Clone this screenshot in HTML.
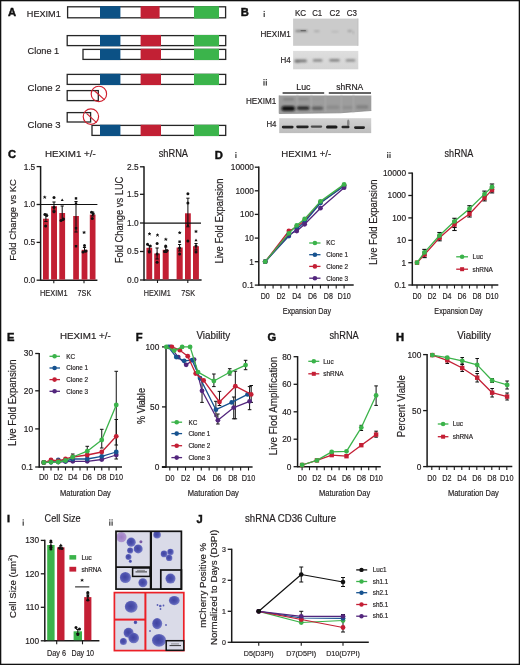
<!DOCTYPE html>
<html><head><meta charset="utf-8"><style>
html,body{margin:0;padding:0;background:#fff;}
body{width:520px;height:665px;overflow:hidden;font-family:"Liberation Sans", sans-serif;}
svg{display:block;will-change:transform;}
text{stroke:#231f20;stroke-width:0.18px;}
</style></head><body>
<svg width="520" height="665" viewBox="0 0 520 665" font-family='"Liberation Sans", sans-serif'>
<rect x="0" y="0" width="520" height="665" fill="#fff"/>
<text x="8.00" y="16.00" font-size="11.2" text-anchor="start" fill="#111" font-weight="bold" style="stroke:#111;stroke-width:0.45px">A</text>
<rect x="67.60" y="6.80" width="158.00" height="11.00" fill="#fff" stroke="#262626" stroke-width="1.3" />
<rect x="100.00" y="6.15" width="20.40" height="12.30" fill="#0c5185" stroke="none" stroke-width="1" />
<rect x="140.60" y="6.15" width="19.00" height="12.30" fill="#c22034" stroke="none" stroke-width="1" />
<rect x="194.00" y="6.15" width="25.00" height="12.30" fill="#3bb44b" stroke="none" stroke-width="1" />
<text x="26.80" y="16.90" font-size="9.4" text-anchor="start" fill="#231f20" textLength="34.00" lengthAdjust="spacingAndGlyphs" >HEXIM1</text>
<rect x="67.20" y="35.60" width="158.50" height="10.00" fill="#fff" stroke="#262626" stroke-width="1.3" />
<rect x="100.00" y="34.95" width="20.40" height="11.30" fill="#0c5185" stroke="none" stroke-width="1" />
<rect x="140.60" y="34.95" width="20.40" height="11.30" fill="#c22034" stroke="none" stroke-width="1" />
<rect x="194.00" y="34.95" width="25.00" height="11.30" fill="#3bb44b" stroke="none" stroke-width="1" />
<rect x="83.00" y="49.40" width="142.70" height="10.00" fill="#fff" stroke="#262626" stroke-width="1.3" />
<rect x="100.00" y="48.75" width="20.40" height="11.30" fill="#0c5185" stroke="none" stroke-width="1" />
<rect x="140.60" y="48.75" width="20.40" height="11.30" fill="#c22034" stroke="none" stroke-width="1" />
<rect x="194.00" y="48.75" width="25.00" height="11.30" fill="#3bb44b" stroke="none" stroke-width="1" />
<text x="27.60" y="54.20" font-size="9.4" text-anchor="start" fill="#231f20" textLength="31.60" lengthAdjust="spacingAndGlyphs" >Clone 1</text>
<rect x="67.20" y="74.40" width="158.50" height="10.00" fill="#fff" stroke="#262626" stroke-width="1.3" />
<rect x="100.00" y="73.75" width="20.40" height="11.30" fill="#0c5185" stroke="none" stroke-width="1" />
<rect x="140.60" y="73.75" width="20.40" height="11.30" fill="#c22034" stroke="none" stroke-width="1" />
<rect x="194.00" y="73.75" width="25.00" height="11.30" fill="#3bb44b" stroke="none" stroke-width="1" />
<rect x="67.20" y="90.60" width="31.10" height="10.00" fill="#fff" stroke="#262626" stroke-width="1.3" />
<text x="27.60" y="91.20" font-size="9.4" text-anchor="start" fill="#231f20" textLength="33.00" lengthAdjust="spacingAndGlyphs" >Clone 2</text>
<rect x="67.20" y="112.60" width="23.40" height="9.40" fill="#fff" stroke="#262626" stroke-width="1.3" />
<rect x="92.00" y="125.40" width="133.70" height="10.00" fill="#fff" stroke="#262626" stroke-width="1.3" />
<rect x="100.00" y="124.75" width="20.40" height="11.30" fill="#0c5185" stroke="none" stroke-width="1" />
<rect x="140.60" y="124.75" width="20.40" height="11.30" fill="#c22034" stroke="none" stroke-width="1" />
<rect x="194.00" y="124.75" width="25.00" height="11.30" fill="#3bb44b" stroke="none" stroke-width="1" />
<text x="27.60" y="128.00" font-size="9.4" text-anchor="start" fill="#231f20" textLength="33.00" lengthAdjust="spacingAndGlyphs" >Clone 3</text>
<circle cx="98.90" cy="93.90" r="7.7" fill="none" stroke="#d0202f" stroke-width="1.15"/>
<line x1="94.50" y1="90.70" x2="104.60" y2="99.90" stroke="#d0202f" stroke-width="1.15" />
<circle cx="90.90" cy="116.60" r="7.7" fill="none" stroke="#d0202f" stroke-width="1.15"/>
<line x1="86.50" y1="113.40" x2="96.60" y2="122.60" stroke="#d0202f" stroke-width="1.15" />
<text x="240.80" y="15.80" font-size="11.2" text-anchor="start" fill="#111" font-weight="bold" style="stroke:#111;stroke-width:0.45px">B</text>
<rect x="263.60" y="10.90" width="1.20" height="1.20" fill="#3a3a3a" stroke="none" stroke-width="1" />
<rect x="263.60" y="13.00" width="1.20" height="4.00" fill="#3a3a3a" stroke="none" stroke-width="1" />
<text x="295.00" y="16.00" font-size="8.3" text-anchor="start" fill="#231f20" textLength="11.20" lengthAdjust="spacingAndGlyphs" >KC</text>
<text x="312.20" y="16.00" font-size="8.3" text-anchor="start" fill="#231f20" textLength="10.00" lengthAdjust="spacingAndGlyphs" >C1</text>
<text x="329.60" y="16.00" font-size="8.3" text-anchor="start" fill="#231f20" textLength="10.40" lengthAdjust="spacingAndGlyphs" >C2</text>
<text x="346.80" y="16.00" font-size="8.3" text-anchor="start" fill="#231f20" textLength="10.20" lengthAdjust="spacingAndGlyphs" >C3</text>
<text x="260.50" y="36.70" font-size="8.8" text-anchor="start" fill="#231f20" textLength="30.30" lengthAdjust="spacingAndGlyphs" >HEXIM1</text>
<text x="280.60" y="62.90" font-size="8.8" text-anchor="start" fill="#231f20" textLength="10.20" lengthAdjust="spacingAndGlyphs" >H4</text>
<defs><filter id="blur1" x="-30%" y="-100%" width="160%" height="300%"><feGaussianBlur stdDeviation="0.9"/></filter><filter id="blur2" x="-30%" y="-100%" width="160%" height="300%"><feGaussianBlur stdDeviation="0.55"/></filter><filter id="blur3" x="-30%" y="-100%" width="160%" height="300%"><feGaussianBlur stdDeviation="0.35"/></filter><linearGradient id="gH4a" x1="0" y1="0" x2="0" y2="1"><stop offset="0" stop-color="#dedede"/><stop offset="1" stop-color="#d4d4d4"/></linearGradient><linearGradient id="gH4b" x1="0" y1="0" x2="0" y2="1"><stop offset="0" stop-color="#d2d2d2"/><stop offset="1" stop-color="#bdbdbd"/></linearGradient></defs>
<rect x="293.10" y="18.60" width="65.20" height="27.20" fill="#cbcbcb" stroke="none" stroke-width="1" />
<rect x="357.20" y="18.60" width="1.10" height="27.20" fill="#c4c4c4" stroke="none" stroke-width="1" />
<rect x="295.50" y="30.10" width="12.00" height="1.80" rx="0.90" fill="#444" opacity="0.55" filter="url(#blur1)"/>
<rect x="300.50" y="30.00" width="5.50" height="1.20" rx="0.60" fill="#333" opacity="0.5" filter="url(#blur2)"/>
<rect x="314.00" y="30.50" width="5.50" height="1.40" rx="0.70" fill="#555" opacity="0.35" filter="url(#blur1)"/>
<rect x="331.50" y="31.00" width="7.00" height="1.20" rx="0.60" fill="#666" opacity="0.25" filter="url(#blur1)"/>
<rect x="347.50" y="30.20" width="4.50" height="1.60" rx="0.80" fill="#444" opacity="0.4" filter="url(#blur1)"/>
<rect x="352.50" y="31.00" width="1.50" height="3.00" rx="1.50" fill="#555" opacity="0.3" filter="url(#blur1)"/>
<rect x="293.10" y="50.90" width="65.20" height="18.40" fill="url(#gH4a)" stroke="none" stroke-width="1" />
<rect x="294.50" y="59.60" width="12.30" height="2.60" rx="1.30" fill="#444" opacity="0.65" filter="url(#blur1)"/>
<rect x="295.00" y="61.00" width="5.00" height="1.60" rx="0.80" fill="#444" opacity="0.4" filter="url(#blur1)"/>
<rect x="312.90" y="59.20" width="9.50" height="2.40" rx="1.20" fill="#444" opacity="0.6" filter="url(#blur1)"/>
<rect x="329.30" y="59.10" width="10.40" height="2.40" rx="1.20" fill="#444" opacity="0.6" filter="url(#blur1)"/>
<rect x="345.70" y="59.20" width="9.60" height="2.40" rx="1.20" fill="#444" opacity="0.55" filter="url(#blur1)"/>
<rect x="263.40" y="79.00" width="1.20" height="1.20" fill="#3a3a3a" stroke="none" stroke-width="1" />
<rect x="263.40" y="81.10" width="1.20" height="4.50" fill="#3a3a3a" stroke="none" stroke-width="1" />
<rect x="265.70" y="79.00" width="1.20" height="1.20" fill="#3a3a3a" stroke="none" stroke-width="1" />
<rect x="265.70" y="81.10" width="1.20" height="4.50" fill="#3a3a3a" stroke="none" stroke-width="1" />
<text x="296.30" y="89.80" font-size="8.8" text-anchor="start" fill="#231f20" textLength="14.20" lengthAdjust="spacingAndGlyphs" >Luc</text>
<text x="336.30" y="89.80" font-size="8.8" text-anchor="start" fill="#231f20" textLength="27.00" lengthAdjust="spacingAndGlyphs" >shRNA</text>
<line x1="282.60" y1="93.10" x2="324.20" y2="93.10" stroke="#333" stroke-width="1.5" />
<line x1="328.80" y1="93.10" x2="371.00" y2="93.10" stroke="#333" stroke-width="1.5" />
<text x="246.00" y="104.00" font-size="8.8" text-anchor="start" fill="#231f20" textLength="30.30" lengthAdjust="spacingAndGlyphs" >HEXIM1</text>
<text x="266.40" y="126.60" font-size="8.8" text-anchor="start" fill="#231f20" textLength="10.00" lengthAdjust="spacingAndGlyphs" >H4</text>
<polygon points="279.2,95.4 371.3,95.4 371.3,110.5 340,112.8 279.2,113.5" fill="#9d9d9d"/>
<polyline points="279.2,95.4 279.2,113.5 340,112.8 371.3,110.5" fill="none" stroke="#8a8a8a" stroke-width="0.8" filter="url(#blur3)"/>
<rect x="296.50" y="95.40" width="1.60" height="16.50" fill="#a8a8a8" stroke="none" stroke-width="1" filter="url(#blur1)"/>
<rect x="310.50" y="95.40" width="1.60" height="16.50" fill="#a8a8a8" stroke="none" stroke-width="1" filter="url(#blur1)"/>
<rect x="324.50" y="95.40" width="1.60" height="16.50" fill="#a8a8a8" stroke="none" stroke-width="1" filter="url(#blur1)"/>
<rect x="340.50" y="95.40" width="1.60" height="16.50" fill="#a8a8a8" stroke="none" stroke-width="1" filter="url(#blur1)"/>
<rect x="352.50" y="95.40" width="1.60" height="16.50" fill="#a8a8a8" stroke="none" stroke-width="1" filter="url(#blur1)"/>
<rect x="281.50" y="105.90" width="13.50" height="5.00" rx="2.50" fill="#0a0a0a" opacity="0.95" filter="url(#blur1)"/>
<rect x="296.80" y="106.20" width="12.70" height="3.80" rx="1.90" fill="#1a1a1a" opacity="0.88" filter="url(#blur1)"/>
<rect x="311.80" y="106.60" width="11.40" height="3.40" rx="1.70" fill="#444" opacity="0.7" filter="url(#blur1)"/>
<rect x="326.50" y="105.50" width="13.00" height="3.40" rx="1.70" fill="#777" opacity="0.45" filter="url(#blur1)"/>
<rect x="342.50" y="106.00" width="10.00" height="3.00" rx="1.50" fill="#777" opacity="0.4" filter="url(#blur1)"/>
<rect x="356.00" y="105.20" width="12.50" height="3.60" rx="1.80" fill="#666" opacity="0.5" filter="url(#blur1)"/>
<rect x="283.00" y="98.20" width="11.00" height="2.00" rx="1.00" fill="#555" opacity="0.45" filter="url(#blur1)"/>
<rect x="298.00" y="98.10" width="11.00" height="1.80" rx="0.90" fill="#666" opacity="0.35" filter="url(#blur1)"/>
<rect x="312.00" y="98.60" width="10.00" height="1.20" rx="0.60" fill="#888" opacity="0.25" filter="url(#blur1)"/>
<rect x="279.20" y="118.20" width="92.00" height="14.90" fill="url(#gH4b)" stroke="none" stroke-width="1" />
<rect x="281.80" y="125.70" width="11.80" height="2.80" rx="1.40" fill="#111" opacity="0.88" filter="url(#blur2)"/>
<rect x="296.20" y="125.40" width="12.50" height="2.80" rx="1.40" fill="#111" opacity="0.88" filter="url(#blur2)"/>
<rect x="310.70" y="125.50" width="11.50" height="2.20" rx="1.10" fill="#222" opacity="0.75" filter="url(#blur2)"/>
<rect x="326.00" y="125.50" width="11.50" height="3.00" rx="1.50" fill="#0a0a0a" opacity="0.92" filter="url(#blur2)"/>
<rect x="341.50" y="125.80" width="8.00" height="2.40" rx="1.20" fill="#111" opacity="0.85" filter="url(#blur2)"/>
<rect x="354.00" y="126.20" width="11.00" height="2.80" rx="1.40" fill="#111" opacity="0.88" filter="url(#blur2)"/>
<rect x="347.00" y="119.50" width="2.50" height="7.00" rx="3.50" fill="#333" opacity="0.45" filter="url(#blur2)"/>
<text x="8.00" y="158.30" font-size="11.2" text-anchor="start" fill="#111" font-weight="bold" style="stroke:#111;stroke-width:0.45px">C</text>
<text x="45.00" y="156.90" font-size="9.9" text-anchor="start" fill="#231f20" textLength="50.80" lengthAdjust="spacingAndGlyphs" >HEXIM1 +/-</text>
<text x="15.90" y="220.00" font-size="9.6" text-anchor="middle" fill="#231f20" textLength="81.60" lengthAdjust="spacingAndGlyphs" transform="rotate(-90 15.90 220.00)" >Fold Change vs KC</text>
<line x1="40.60" y1="166.00" x2="40.60" y2="280.90" stroke="#1a1a1a" stroke-width="1.5" />
<line x1="36.60" y1="166.60" x2="40.60" y2="166.60" stroke="#1a1a1a" stroke-width="1.3" />
<text x="35.20" y="169.50" font-size="8.3" text-anchor="end" fill="#231f20" >1.5</text>
<line x1="36.60" y1="204.50" x2="40.60" y2="204.50" stroke="#1a1a1a" stroke-width="1.3" />
<text x="35.20" y="207.40" font-size="8.3" text-anchor="end" fill="#231f20" >1.0</text>
<line x1="36.60" y1="242.40" x2="40.60" y2="242.40" stroke="#1a1a1a" stroke-width="1.3" />
<text x="35.20" y="245.30" font-size="8.3" text-anchor="end" fill="#231f20" >0.5</text>
<line x1="36.60" y1="280.20" x2="40.60" y2="280.20" stroke="#1a1a1a" stroke-width="1.3" />
<text x="35.20" y="283.10" font-size="8.3" text-anchor="end" fill="#231f20" >0.0</text>
<line x1="40.60" y1="280.20" x2="97.40" y2="280.20" stroke="#1a1a1a" stroke-width="1.5" />
<line x1="53.80" y1="280.20" x2="53.80" y2="283.20" stroke="#1a1a1a" stroke-width="1.1" />
<line x1="84.00" y1="280.20" x2="84.00" y2="283.20" stroke="#1a1a1a" stroke-width="1.1" />
<line x1="40.60" y1="204.50" x2="97.40" y2="204.50" stroke="#111" stroke-width="1.2" />
<rect x="43.00" y="218.70" width="5.80" height="60.90" fill="#c21f33" stroke="none" stroke-width="1" />
<rect x="51.10" y="206.20" width="5.90" height="73.40" fill="#c21f33" stroke="none" stroke-width="1" />
<rect x="59.30" y="213.00" width="5.80" height="66.60" fill="#c21f33" stroke="none" stroke-width="1" />
<rect x="73.20" y="216.00" width="5.70" height="63.60" fill="#c21f33" stroke="none" stroke-width="1" />
<rect x="81.60" y="249.80" width="5.80" height="29.80" fill="#c21f33" stroke="none" stroke-width="1" />
<rect x="89.80" y="214.60" width="5.70" height="65.00" fill="#c21f33" stroke="none" stroke-width="1" />
<line x1="45.90" y1="214.00" x2="45.90" y2="221.50" stroke="#111" stroke-width="1.05" />
<line x1="44.30" y1="214.00" x2="47.50" y2="214.00" stroke="#111" stroke-width="1.05" />
<line x1="44.30" y1="221.50" x2="47.50" y2="221.50" stroke="#111" stroke-width="1.05" />
<circle cx="44.90" cy="214.60" r="1.5" fill="#111" stroke="none" stroke-width="1"/>
<circle cx="46.80" cy="215.60" r="1.5" fill="#111" stroke="none" stroke-width="1"/>
<circle cx="45.60" cy="226.00" r="1.5" fill="#111" stroke="none" stroke-width="1"/>
<path d="M44.70,197.30L44.70,196.10 M44.70,197.30L45.84,196.93 M44.70,197.30L45.41,198.27 M44.70,197.30L43.99,198.27 M44.70,197.30L43.56,196.93" stroke="#111" stroke-width="0.95" stroke-linecap="round" fill="none"/>
<line x1="54.00" y1="202.00" x2="54.00" y2="211.00" stroke="#111" stroke-width="1.05" />
<line x1="52.40" y1="202.00" x2="55.60" y2="202.00" stroke="#111" stroke-width="1.05" />
<line x1="52.40" y1="211.00" x2="55.60" y2="211.00" stroke="#111" stroke-width="1.05" />
<circle cx="54.00" cy="197.60" r="1.5" fill="#111" stroke="none" stroke-width="1"/>
<circle cx="54.00" cy="207.30" r="1.5" fill="#111" stroke="none" stroke-width="1"/>
<circle cx="54.00" cy="211.80" r="1.5" fill="#111" stroke="none" stroke-width="1"/>
<line x1="62.20" y1="206.00" x2="62.20" y2="220.50" stroke="#111" stroke-width="1.05" />
<line x1="60.60" y1="206.00" x2="63.80" y2="206.00" stroke="#111" stroke-width="1.05" />
<line x1="60.60" y1="220.50" x2="63.80" y2="220.50" stroke="#111" stroke-width="1.05" />
<polygon points="62.2,198.4 60.7,201 63.7,201" fill="#111"/>
<circle cx="61.00" cy="220.50" r="1.5" fill="#111" stroke="none" stroke-width="1"/>
<circle cx="63.50" cy="219.00" r="1.5" fill="#111" stroke="none" stroke-width="1"/>
<line x1="76.00" y1="201.50" x2="76.00" y2="232.00" stroke="#111" stroke-width="1.05" />
<line x1="74.40" y1="201.50" x2="77.60" y2="201.50" stroke="#111" stroke-width="1.05" />
<line x1="74.40" y1="232.00" x2="77.60" y2="232.00" stroke="#111" stroke-width="1.05" />
<rect x="74.80" y="197.20" width="2.40" height="2.40" fill="#111" stroke="none" stroke-width="1" />
<rect x="74.80" y="202.50" width="2.40" height="2.40" fill="#111" stroke="none" stroke-width="1" />
<rect x="74.80" y="227.00" width="2.40" height="2.40" fill="#111" stroke="none" stroke-width="1" />
<rect x="74.80" y="245.00" width="2.40" height="2.40" fill="#111" stroke="none" stroke-width="1" />
<line x1="84.50" y1="247.50" x2="84.50" y2="252.00" stroke="#111" stroke-width="1.05" />
<line x1="82.90" y1="247.50" x2="86.10" y2="247.50" stroke="#111" stroke-width="1.05" />
<line x1="82.90" y1="252.00" x2="86.10" y2="252.00" stroke="#111" stroke-width="1.05" />
<path d="M84.10,232.50L84.10,231.30 M84.10,232.50L85.24,232.13 M84.10,232.50L84.81,233.47 M84.10,232.50L83.39,233.47 M84.10,232.50L82.96,232.13" stroke="#111" stroke-width="0.95" stroke-linecap="round" fill="none"/>
<circle cx="84.50" cy="245.50" r="1.5" fill="#111" stroke="none" stroke-width="1"/>
<circle cx="83.00" cy="252.00" r="1.5" fill="#111" stroke="none" stroke-width="1"/>
<circle cx="86.00" cy="251.00" r="1.5" fill="#111" stroke="none" stroke-width="1"/>
<line x1="92.60" y1="212.00" x2="92.60" y2="216.00" stroke="#111" stroke-width="1.05" />
<line x1="91.00" y1="212.00" x2="94.20" y2="212.00" stroke="#111" stroke-width="1.05" />
<line x1="91.00" y1="216.00" x2="94.20" y2="216.00" stroke="#111" stroke-width="1.05" />
<circle cx="91.50" cy="212.30" r="1.5" fill="#111" stroke="none" stroke-width="1"/>
<circle cx="93.20" cy="213.80" r="1.5" fill="#111" stroke="none" stroke-width="1"/>
<circle cx="92.30" cy="218.60" r="1.5" fill="#111" stroke="none" stroke-width="1"/>
<text x="40.00" y="295.70" font-size="9.6" text-anchor="start" fill="#231f20" textLength="27.50" lengthAdjust="spacingAndGlyphs" >HEXIM1</text>
<text x="77.60" y="295.70" font-size="9.6" text-anchor="start" fill="#231f20" textLength="13.60" lengthAdjust="spacingAndGlyphs" >7SK</text>
<text x="158.70" y="157.00" font-size="10.0" text-anchor="start" fill="#231f20" textLength="29.30" lengthAdjust="spacingAndGlyphs" >shRNA</text>
<text x="122.80" y="219.90" font-size="10.0" text-anchor="middle" fill="#231f20" textLength="86.50" lengthAdjust="spacingAndGlyphs" transform="rotate(-90 122.80 219.90)" >Fold Change vs LUC</text>
<line x1="144.00" y1="166.20" x2="144.00" y2="280.70" stroke="#1a1a1a" stroke-width="1.5" />
<line x1="140.00" y1="166.80" x2="144.00" y2="166.80" stroke="#1a1a1a" stroke-width="1.3" />
<text x="138.60" y="169.70" font-size="8.3" text-anchor="end" fill="#231f20" >2.5</text>
<line x1="140.00" y1="194.30" x2="144.00" y2="194.30" stroke="#1a1a1a" stroke-width="1.3" />
<text x="138.60" y="197.20" font-size="8.3" text-anchor="end" fill="#231f20" >1.5</text>
<line x1="140.00" y1="223.00" x2="144.00" y2="223.00" stroke="#1a1a1a" stroke-width="1.3" />
<text x="138.60" y="225.90" font-size="8.3" text-anchor="end" fill="#231f20" >1.0</text>
<line x1="140.00" y1="251.50" x2="144.00" y2="251.50" stroke="#1a1a1a" stroke-width="1.3" />
<text x="138.60" y="254.40" font-size="8.3" text-anchor="end" fill="#231f20" >0.5</text>
<line x1="140.00" y1="280.00" x2="144.00" y2="280.00" stroke="#1a1a1a" stroke-width="1.3" />
<text x="138.60" y="282.90" font-size="8.3" text-anchor="end" fill="#231f20" >0.0</text>
<line x1="144.00" y1="280.00" x2="201.60" y2="280.00" stroke="#1a1a1a" stroke-width="1.5" />
<line x1="157.50" y1="280.00" x2="157.50" y2="283.00" stroke="#1a1a1a" stroke-width="1.1" />
<line x1="187.80" y1="280.00" x2="187.80" y2="283.00" stroke="#1a1a1a" stroke-width="1.1" />
<rect x="146.40" y="247.80" width="5.80" height="31.60" fill="#c21f33" stroke="none" stroke-width="1" />
<rect x="154.20" y="253.50" width="5.80" height="25.90" fill="#c21f33" stroke="none" stroke-width="1" />
<rect x="162.70" y="249.80" width="6.00" height="29.60" fill="#c21f33" stroke="none" stroke-width="1" />
<rect x="176.60" y="247.50" width="6.10" height="31.90" fill="#c21f33" stroke="none" stroke-width="1" />
<rect x="185.00" y="213.30" width="5.80" height="66.10" fill="#c21f33" stroke="none" stroke-width="1" />
<rect x="193.00" y="246.20" width="5.90" height="33.20" fill="#c21f33" stroke="none" stroke-width="1" />
<line x1="144.00" y1="223.10" x2="201.00" y2="223.10" stroke="#111" stroke-width="1.2" />
<line x1="149.30" y1="245.50" x2="149.30" y2="251.00" stroke="#111" stroke-width="1.05" />
<line x1="147.70" y1="245.50" x2="150.90" y2="245.50" stroke="#111" stroke-width="1.05" />
<line x1="147.70" y1="251.00" x2="150.90" y2="251.00" stroke="#111" stroke-width="1.05" />
<path d="M149.50,234.00L149.50,232.80 M149.50,234.00L150.64,233.63 M149.50,234.00L150.21,234.97 M149.50,234.00L148.79,234.97 M149.50,234.00L148.36,233.63" stroke="#111" stroke-width="0.95" stroke-linecap="round" fill="none"/>
<circle cx="147.50" cy="244.20" r="1.5" fill="#111" stroke="none" stroke-width="1"/>
<circle cx="150.30" cy="246.00" r="1.5" fill="#111" stroke="none" stroke-width="1"/>
<circle cx="149.30" cy="252.00" r="1.5" fill="#111" stroke="none" stroke-width="1"/>
<line x1="157.10" y1="248.00" x2="157.10" y2="259.00" stroke="#111" stroke-width="1.05" />
<line x1="155.50" y1="248.00" x2="158.70" y2="248.00" stroke="#111" stroke-width="1.05" />
<line x1="155.50" y1="259.00" x2="158.70" y2="259.00" stroke="#111" stroke-width="1.05" />
<path d="M157.50,235.20L157.50,234.00 M157.50,235.20L158.64,234.83 M157.50,235.20L158.21,236.17 M157.50,235.20L156.79,236.17 M157.50,235.20L156.36,234.83" stroke="#111" stroke-width="0.95" stroke-linecap="round" fill="none"/>
<circle cx="157.10" cy="243.60" r="1.5" fill="#111" stroke="none" stroke-width="1"/>
<circle cx="157.10" cy="254.00" r="1.5" fill="#111" stroke="none" stroke-width="1"/>
<circle cx="157.10" cy="262.20" r="1.5" fill="#111" stroke="none" stroke-width="1"/>
<line x1="165.70" y1="247.00" x2="165.70" y2="252.50" stroke="#111" stroke-width="1.05" />
<line x1="164.10" y1="247.00" x2="167.30" y2="247.00" stroke="#111" stroke-width="1.05" />
<line x1="164.10" y1="252.50" x2="167.30" y2="252.50" stroke="#111" stroke-width="1.05" />
<path d="M165.80,239.40L165.80,238.20 M165.80,239.40L166.94,239.03 M165.80,239.40L166.51,240.37 M165.80,239.40L165.09,240.37 M165.80,239.40L164.66,239.03" stroke="#111" stroke-width="0.95" stroke-linecap="round" fill="none"/>
<circle cx="165.70" cy="246.00" r="1.5" fill="#111" stroke="none" stroke-width="1"/>
<circle cx="164.50" cy="251.50" r="1.5" fill="#111" stroke="none" stroke-width="1"/>
<circle cx="167.00" cy="250.50" r="1.5" fill="#111" stroke="none" stroke-width="1"/>
<line x1="179.60" y1="244.50" x2="179.60" y2="251.00" stroke="#111" stroke-width="1.05" />
<line x1="178.00" y1="244.50" x2="181.20" y2="244.50" stroke="#111" stroke-width="1.05" />
<line x1="178.00" y1="251.00" x2="181.20" y2="251.00" stroke="#111" stroke-width="1.05" />
<path d="M179.70,232.80L179.70,231.60 M179.70,232.80L180.84,232.43 M179.70,232.80L180.41,233.77 M179.70,232.80L178.99,233.77 M179.70,232.80L178.56,232.43" stroke="#111" stroke-width="0.95" stroke-linecap="round" fill="none"/>
<rect x="178.40" y="240.50" width="2.40" height="2.40" fill="#111" stroke="none" stroke-width="1" />
<circle cx="179.60" cy="248.00" r="1.5" fill="#111" stroke="none" stroke-width="1"/>
<circle cx="179.60" cy="254.00" r="1.5" fill="#111" stroke="none" stroke-width="1"/>
<line x1="187.90" y1="198.20" x2="187.90" y2="226.80" stroke="#111" stroke-width="1.05" />
<line x1="186.30" y1="198.20" x2="189.50" y2="198.20" stroke="#111" stroke-width="1.05" />
<line x1="186.30" y1="226.80" x2="189.50" y2="226.80" stroke="#111" stroke-width="1.05" />
<circle cx="187.90" cy="193.80" r="1.5" fill="#111" stroke="none" stroke-width="1"/>
<circle cx="187.90" cy="203.10" r="1.5" fill="#111" stroke="none" stroke-width="1"/>
<circle cx="187.90" cy="241.00" r="1.5" fill="#111" stroke="none" stroke-width="1"/>
<polygon points="187.9,223.5 186.4,226.2 189.4,226.2" fill="#111"/>
<line x1="196.00" y1="243.50" x2="196.00" y2="250.00" stroke="#111" stroke-width="1.05" />
<line x1="194.40" y1="243.50" x2="197.60" y2="243.50" stroke="#111" stroke-width="1.05" />
<line x1="194.40" y1="250.00" x2="197.60" y2="250.00" stroke="#111" stroke-width="1.05" />
<path d="M196.00,231.50L196.00,230.30 M196.00,231.50L197.14,231.13 M196.00,231.50L196.71,232.47 M196.00,231.50L195.29,232.47 M196.00,231.50L194.86,231.13" stroke="#111" stroke-width="0.95" stroke-linecap="round" fill="none"/>
<polygon points="196.0,238.6 194.5,241.2 197.5,241.2" fill="#111"/>
<circle cx="196.00" cy="246.00" r="1.5" fill="#111" stroke="none" stroke-width="1"/>
<circle cx="196.00" cy="252.00" r="1.5" fill="#111" stroke="none" stroke-width="1"/>
<text x="143.80" y="295.70" font-size="9.6" text-anchor="start" fill="#231f20" textLength="27.00" lengthAdjust="spacingAndGlyphs" >HEXIM1</text>
<text x="181.30" y="295.70" font-size="9.6" text-anchor="start" fill="#231f20" textLength="13.70" lengthAdjust="spacingAndGlyphs" >7SK</text>
<text x="214.80" y="158.80" font-size="11.2" text-anchor="start" fill="#111" font-weight="bold" style="stroke:#111;stroke-width:0.45px">D</text>
<rect x="235.30" y="152.00" width="1.20" height="1.20" fill="#3a3a3a" stroke="none" stroke-width="1" />
<rect x="235.30" y="154.10" width="1.20" height="3.90" fill="#3a3a3a" stroke="none" stroke-width="1" />
<text x="281.20" y="157.10" font-size="9.9" text-anchor="start" fill="#231f20" textLength="50.00" lengthAdjust="spacingAndGlyphs" >HEXIM1 +/-</text>
<text x="222.60" y="221.00" font-size="10.0" text-anchor="middle" fill="#231f20" textLength="85.00" lengthAdjust="spacingAndGlyphs" transform="rotate(-90 222.60 221.00)" >Live Fold Expansion</text>
<line x1="258.80" y1="166.60" x2="258.80" y2="285.80" stroke="#1a1a1a" stroke-width="1.5" />
<line x1="254.80" y1="167.20" x2="258.80" y2="167.20" stroke="#1a1a1a" stroke-width="1.3" />
<text x="253.90" y="170.10" font-size="8.3" text-anchor="end" fill="#231f20" >10000</text>
<line x1="254.80" y1="190.80" x2="258.80" y2="190.80" stroke="#1a1a1a" stroke-width="1.3" />
<text x="253.90" y="193.70" font-size="8.3" text-anchor="end" fill="#231f20" >1000</text>
<line x1="254.80" y1="214.40" x2="258.80" y2="214.40" stroke="#1a1a1a" stroke-width="1.3" />
<text x="253.90" y="217.30" font-size="8.3" text-anchor="end" fill="#231f20" >100</text>
<line x1="254.80" y1="238.10" x2="258.80" y2="238.10" stroke="#1a1a1a" stroke-width="1.3" />
<text x="253.90" y="241.00" font-size="8.3" text-anchor="end" fill="#231f20" >10</text>
<line x1="254.80" y1="261.70" x2="258.80" y2="261.70" stroke="#1a1a1a" stroke-width="1.3" />
<text x="253.90" y="264.60" font-size="8.3" text-anchor="end" fill="#231f20" >1</text>
<line x1="254.80" y1="285.10" x2="258.80" y2="285.10" stroke="#1a1a1a" stroke-width="1.3" />
<text x="253.90" y="288.00" font-size="8.3" text-anchor="end" fill="#231f20" >0.1</text>
<line x1="258.80" y1="285.10" x2="353.70" y2="285.10" stroke="#1a1a1a" stroke-width="1.5" />
<line x1="265.20" y1="285.10" x2="265.20" y2="288.60" stroke="#1a1a1a" stroke-width="1.1" />
<line x1="273.09" y1="285.10" x2="273.09" y2="288.60" stroke="#1a1a1a" stroke-width="1.1" />
<line x1="280.98" y1="285.10" x2="280.98" y2="288.60" stroke="#1a1a1a" stroke-width="1.1" />
<line x1="288.87" y1="285.10" x2="288.87" y2="288.60" stroke="#1a1a1a" stroke-width="1.1" />
<line x1="296.76" y1="285.10" x2="296.76" y2="288.60" stroke="#1a1a1a" stroke-width="1.1" />
<line x1="304.65" y1="285.10" x2="304.65" y2="288.60" stroke="#1a1a1a" stroke-width="1.1" />
<line x1="312.54" y1="285.10" x2="312.54" y2="288.60" stroke="#1a1a1a" stroke-width="1.1" />
<line x1="320.43" y1="285.10" x2="320.43" y2="288.60" stroke="#1a1a1a" stroke-width="1.1" />
<line x1="328.32" y1="285.10" x2="328.32" y2="288.60" stroke="#1a1a1a" stroke-width="1.1" />
<line x1="336.21" y1="285.10" x2="336.21" y2="288.60" stroke="#1a1a1a" stroke-width="1.1" />
<line x1="344.10" y1="285.10" x2="344.10" y2="288.60" stroke="#1a1a1a" stroke-width="1.1" />
<text x="265.20" y="299.40" font-size="8.5" text-anchor="middle" fill="#231f20" textLength="9.00" lengthAdjust="spacingAndGlyphs" >D0</text>
<text x="280.98" y="299.40" font-size="8.5" text-anchor="middle" fill="#231f20" textLength="9.00" lengthAdjust="spacingAndGlyphs" >D2</text>
<text x="296.76" y="299.40" font-size="8.5" text-anchor="middle" fill="#231f20" textLength="9.00" lengthAdjust="spacingAndGlyphs" >D4</text>
<text x="312.54" y="299.40" font-size="8.5" text-anchor="middle" fill="#231f20" textLength="9.00" lengthAdjust="spacingAndGlyphs" >D6</text>
<text x="328.32" y="299.40" font-size="8.5" text-anchor="middle" fill="#231f20" textLength="9.00" lengthAdjust="spacingAndGlyphs" >D8</text>
<text x="344.10" y="299.40" font-size="8.5" text-anchor="middle" fill="#231f20" textLength="13.20" lengthAdjust="spacingAndGlyphs" >D10</text>
<text x="306.90" y="314.30" font-size="8.8" text-anchor="middle" fill="#231f20" textLength="48.50" lengthAdjust="spacingAndGlyphs" >Expansion Day</text>
<polyline points="265.20,261.70 288.87,231.00 296.76,227.00 304.65,220.50 320.43,202.50 344.10,185.50" fill="none" stroke="#c41f35" stroke-width="1.3" stroke-linejoin="round"/>
<circle cx="265.20" cy="261.70" r="2.4" fill="#c41f35" stroke="none" stroke-width="1"/>
<circle cx="288.87" cy="231.00" r="2.4" fill="#c41f35" stroke="none" stroke-width="1"/>
<circle cx="296.76" cy="227.00" r="2.4" fill="#c41f35" stroke="none" stroke-width="1"/>
<circle cx="304.65" cy="220.50" r="2.4" fill="#c41f35" stroke="none" stroke-width="1"/>
<circle cx="320.43" cy="202.50" r="2.4" fill="#c41f35" stroke="none" stroke-width="1"/>
<circle cx="344.10" cy="185.50" r="2.4" fill="#c41f35" stroke="none" stroke-width="1"/>
<polyline points="265.20,261.70 288.87,236.00 296.76,229.00 304.65,222.00 320.43,203.00 344.10,186.00" fill="none" stroke="#16528f" stroke-width="1.3" stroke-linejoin="round"/>
<circle cx="265.20" cy="261.70" r="2.4" fill="#16528f" stroke="none" stroke-width="1"/>
<circle cx="288.87" cy="236.00" r="2.4" fill="#16528f" stroke="none" stroke-width="1"/>
<circle cx="296.76" cy="229.00" r="2.4" fill="#16528f" stroke="none" stroke-width="1"/>
<circle cx="304.65" cy="222.00" r="2.4" fill="#16528f" stroke="none" stroke-width="1"/>
<circle cx="320.43" cy="203.00" r="2.4" fill="#16528f" stroke="none" stroke-width="1"/>
<circle cx="344.10" cy="186.00" r="2.4" fill="#16528f" stroke="none" stroke-width="1"/>
<polyline points="265.20,261.70 288.87,234.50 296.76,231.00 304.65,224.30 320.43,208.20 344.10,187.70" fill="none" stroke="#53267d" stroke-width="1.3" stroke-linejoin="round"/>
<circle cx="265.20" cy="261.70" r="2.4" fill="#53267d" stroke="none" stroke-width="1"/>
<circle cx="288.87" cy="234.50" r="2.4" fill="#53267d" stroke="none" stroke-width="1"/>
<circle cx="296.76" cy="231.00" r="2.4" fill="#53267d" stroke="none" stroke-width="1"/>
<circle cx="304.65" cy="224.30" r="2.4" fill="#53267d" stroke="none" stroke-width="1"/>
<circle cx="320.43" cy="208.20" r="2.4" fill="#53267d" stroke="none" stroke-width="1"/>
<circle cx="344.10" cy="187.70" r="2.4" fill="#53267d" stroke="none" stroke-width="1"/>
<polyline points="265.20,261.70 288.87,233.30 296.76,225.30 304.65,218.90 320.43,201.40 344.10,184.40" fill="none" stroke="#3bb34a" stroke-width="1.3" stroke-linejoin="round"/>
<circle cx="265.20" cy="261.70" r="2.4" fill="#3bb34a" stroke="none" stroke-width="1"/>
<circle cx="288.87" cy="233.30" r="2.4" fill="#3bb34a" stroke="none" stroke-width="1"/>
<circle cx="296.76" cy="225.30" r="2.4" fill="#3bb34a" stroke="none" stroke-width="1"/>
<circle cx="304.65" cy="218.90" r="2.4" fill="#3bb34a" stroke="none" stroke-width="1"/>
<circle cx="320.43" cy="201.40" r="2.4" fill="#3bb34a" stroke="none" stroke-width="1"/>
<circle cx="344.10" cy="184.40" r="2.4" fill="#3bb34a" stroke="none" stroke-width="1"/>
<line x1="309.20" y1="243.00" x2="320.50" y2="243.00" stroke="#3bb34a" stroke-width="1.3" />
<circle cx="314.90" cy="243.00" r="2.3" fill="#3bb34a" stroke="none" stroke-width="1"/>
<text x="326.20" y="245.30" font-size="6.4" text-anchor="start" fill="#231f20" >KC</text>
<line x1="309.20" y1="254.70" x2="320.50" y2="254.70" stroke="#16528f" stroke-width="1.3" />
<circle cx="314.90" cy="254.70" r="2.3" fill="#16528f" stroke="none" stroke-width="1"/>
<text x="326.20" y="257.00" font-size="6.4" text-anchor="start" fill="#231f20" textLength="21.80" lengthAdjust="spacingAndGlyphs" >Clone 1</text>
<line x1="309.20" y1="266.40" x2="320.50" y2="266.40" stroke="#c41f35" stroke-width="1.3" />
<circle cx="314.90" cy="266.40" r="2.3" fill="#c41f35" stroke="none" stroke-width="1"/>
<text x="326.20" y="268.70" font-size="6.4" text-anchor="start" fill="#231f20" textLength="21.80" lengthAdjust="spacingAndGlyphs" >Clone 2</text>
<line x1="309.20" y1="278.20" x2="320.50" y2="278.20" stroke="#53267d" stroke-width="1.3" />
<circle cx="314.90" cy="278.20" r="2.3" fill="#53267d" stroke="none" stroke-width="1"/>
<text x="326.20" y="280.50" font-size="6.4" text-anchor="start" fill="#231f20" textLength="21.80" lengthAdjust="spacingAndGlyphs" >Clone 3</text>
<rect x="387.10" y="152.00" width="1.20" height="1.20" fill="#3a3a3a" stroke="none" stroke-width="1" />
<rect x="387.10" y="154.10" width="1.20" height="3.90" fill="#3a3a3a" stroke="none" stroke-width="1" />
<rect x="389.40" y="152.00" width="1.20" height="1.20" fill="#3a3a3a" stroke="none" stroke-width="1" />
<rect x="389.40" y="154.10" width="1.20" height="3.90" fill="#3a3a3a" stroke="none" stroke-width="1" />
<text x="444.60" y="156.90" font-size="10.0" text-anchor="start" fill="#231f20" textLength="28.60" lengthAdjust="spacingAndGlyphs" >shRNA</text>
<text x="376.60" y="222.20" font-size="10.0" text-anchor="middle" fill="#231f20" textLength="85.50" lengthAdjust="spacingAndGlyphs" transform="rotate(-90 376.60 222.20)" >Live Fold Expansion</text>
<line x1="412.30" y1="172.50" x2="412.30" y2="285.70" stroke="#1a1a1a" stroke-width="1.5" />
<line x1="408.30" y1="173.10" x2="412.30" y2="173.10" stroke="#1a1a1a" stroke-width="1.3" />
<text x="406.00" y="176.00" font-size="8.3" text-anchor="end" fill="#231f20" >10000</text>
<line x1="408.30" y1="195.50" x2="412.30" y2="195.50" stroke="#1a1a1a" stroke-width="1.3" />
<text x="406.00" y="198.40" font-size="8.3" text-anchor="end" fill="#231f20" >1000</text>
<line x1="408.30" y1="217.90" x2="412.30" y2="217.90" stroke="#1a1a1a" stroke-width="1.3" />
<text x="406.00" y="220.80" font-size="8.3" text-anchor="end" fill="#231f20" >100</text>
<line x1="408.30" y1="240.30" x2="412.30" y2="240.30" stroke="#1a1a1a" stroke-width="1.3" />
<text x="406.00" y="243.20" font-size="8.3" text-anchor="end" fill="#231f20" >10</text>
<line x1="408.30" y1="262.70" x2="412.30" y2="262.70" stroke="#1a1a1a" stroke-width="1.3" />
<text x="406.00" y="265.60" font-size="8.3" text-anchor="end" fill="#231f20" >1</text>
<line x1="408.30" y1="285.00" x2="412.30" y2="285.00" stroke="#1a1a1a" stroke-width="1.3" />
<text x="406.00" y="287.90" font-size="8.3" text-anchor="end" fill="#231f20" >0.1</text>
<line x1="412.30" y1="285.00" x2="498.30" y2="285.00" stroke="#1a1a1a" stroke-width="1.5" />
<line x1="417.00" y1="285.00" x2="417.00" y2="288.50" stroke="#1a1a1a" stroke-width="1.1" />
<line x1="424.50" y1="285.00" x2="424.50" y2="288.50" stroke="#1a1a1a" stroke-width="1.1" />
<line x1="432.00" y1="285.00" x2="432.00" y2="288.50" stroke="#1a1a1a" stroke-width="1.1" />
<line x1="439.50" y1="285.00" x2="439.50" y2="288.50" stroke="#1a1a1a" stroke-width="1.1" />
<line x1="447.00" y1="285.00" x2="447.00" y2="288.50" stroke="#1a1a1a" stroke-width="1.1" />
<line x1="454.50" y1="285.00" x2="454.50" y2="288.50" stroke="#1a1a1a" stroke-width="1.1" />
<line x1="462.00" y1="285.00" x2="462.00" y2="288.50" stroke="#1a1a1a" stroke-width="1.1" />
<line x1="469.50" y1="285.00" x2="469.50" y2="288.50" stroke="#1a1a1a" stroke-width="1.1" />
<line x1="477.00" y1="285.00" x2="477.00" y2="288.50" stroke="#1a1a1a" stroke-width="1.1" />
<line x1="484.50" y1="285.00" x2="484.50" y2="288.50" stroke="#1a1a1a" stroke-width="1.1" />
<line x1="492.00" y1="285.00" x2="492.00" y2="288.50" stroke="#1a1a1a" stroke-width="1.1" />
<text x="417.00" y="299.40" font-size="8.5" text-anchor="middle" fill="#231f20" textLength="9.00" lengthAdjust="spacingAndGlyphs" >D0</text>
<text x="432.00" y="299.40" font-size="8.5" text-anchor="middle" fill="#231f20" textLength="9.00" lengthAdjust="spacingAndGlyphs" >D2</text>
<text x="447.00" y="299.40" font-size="8.5" text-anchor="middle" fill="#231f20" textLength="9.00" lengthAdjust="spacingAndGlyphs" >D4</text>
<text x="462.00" y="299.40" font-size="8.5" text-anchor="middle" fill="#231f20" textLength="9.00" lengthAdjust="spacingAndGlyphs" >D6</text>
<text x="477.00" y="299.40" font-size="8.5" text-anchor="middle" fill="#231f20" textLength="9.00" lengthAdjust="spacingAndGlyphs" >D8</text>
<text x="492.00" y="299.40" font-size="8.5" text-anchor="middle" fill="#231f20" textLength="13.20" lengthAdjust="spacingAndGlyphs" >D10</text>
<text x="458.50" y="314.30" font-size="8.8" text-anchor="middle" fill="#231f20" textLength="48.30" lengthAdjust="spacingAndGlyphs" >Expansion Day</text>
<line x1="424.50" y1="249.40" x2="424.50" y2="255.00" stroke="#111" stroke-width="1.1" />
<line x1="422.30" y1="249.40" x2="426.70" y2="249.40" stroke="#111" stroke-width="1.1" />
<line x1="422.30" y1="255.00" x2="426.70" y2="255.00" stroke="#111" stroke-width="1.1" />
<line x1="439.50" y1="232.50" x2="439.50" y2="238.10" stroke="#111" stroke-width="1.1" />
<line x1="437.30" y1="232.50" x2="441.70" y2="232.50" stroke="#111" stroke-width="1.1" />
<line x1="437.30" y1="238.10" x2="441.70" y2="238.10" stroke="#111" stroke-width="1.1" />
<line x1="454.50" y1="218.30" x2="454.50" y2="223.90" stroke="#111" stroke-width="1.1" />
<line x1="452.30" y1="218.30" x2="456.70" y2="218.30" stroke="#111" stroke-width="1.1" />
<line x1="452.30" y1="223.90" x2="456.70" y2="223.90" stroke="#111" stroke-width="1.1" />
<line x1="469.50" y1="205.70" x2="469.50" y2="211.30" stroke="#111" stroke-width="1.1" />
<line x1="467.30" y1="205.70" x2="471.70" y2="205.70" stroke="#111" stroke-width="1.1" />
<line x1="467.30" y1="211.30" x2="471.70" y2="211.30" stroke="#111" stroke-width="1.1" />
<line x1="484.50" y1="191.10" x2="484.50" y2="196.70" stroke="#111" stroke-width="1.1" />
<line x1="482.30" y1="191.10" x2="486.70" y2="191.10" stroke="#111" stroke-width="1.1" />
<line x1="482.30" y1="196.70" x2="486.70" y2="196.70" stroke="#111" stroke-width="1.1" />
<line x1="492.00" y1="184.00" x2="492.00" y2="189.60" stroke="#111" stroke-width="1.1" />
<line x1="489.80" y1="184.00" x2="494.20" y2="184.00" stroke="#111" stroke-width="1.1" />
<line x1="489.80" y1="189.60" x2="494.20" y2="189.60" stroke="#111" stroke-width="1.1" />
<line x1="424.50" y1="252.00" x2="424.50" y2="257.60" stroke="#111" stroke-width="1.1" />
<line x1="422.30" y1="252.00" x2="426.70" y2="252.00" stroke="#111" stroke-width="1.1" />
<line x1="422.30" y1="257.60" x2="426.70" y2="257.60" stroke="#111" stroke-width="1.1" />
<line x1="439.50" y1="235.20" x2="439.50" y2="240.80" stroke="#111" stroke-width="1.1" />
<line x1="437.30" y1="235.20" x2="441.70" y2="235.20" stroke="#111" stroke-width="1.1" />
<line x1="437.30" y1="240.80" x2="441.70" y2="240.80" stroke="#111" stroke-width="1.1" />
<line x1="454.50" y1="221.90" x2="454.50" y2="227.50" stroke="#111" stroke-width="1.1" />
<line x1="452.30" y1="221.90" x2="456.70" y2="221.90" stroke="#111" stroke-width="1.1" />
<line x1="452.30" y1="227.50" x2="456.70" y2="227.50" stroke="#111" stroke-width="1.1" />
<line x1="469.50" y1="211.40" x2="469.50" y2="217.00" stroke="#111" stroke-width="1.1" />
<line x1="467.30" y1="211.40" x2="471.70" y2="211.40" stroke="#111" stroke-width="1.1" />
<line x1="467.30" y1="217.00" x2="471.70" y2="217.00" stroke="#111" stroke-width="1.1" />
<line x1="484.50" y1="195.30" x2="484.50" y2="200.90" stroke="#111" stroke-width="1.1" />
<line x1="482.30" y1="195.30" x2="486.70" y2="195.30" stroke="#111" stroke-width="1.1" />
<line x1="482.30" y1="200.90" x2="486.70" y2="200.90" stroke="#111" stroke-width="1.1" />
<line x1="492.00" y1="187.30" x2="492.00" y2="192.90" stroke="#111" stroke-width="1.1" />
<line x1="489.80" y1="187.30" x2="494.20" y2="187.30" stroke="#111" stroke-width="1.1" />
<line x1="489.80" y1="192.90" x2="494.20" y2="192.90" stroke="#111" stroke-width="1.1" />
<line x1="454.50" y1="221.00" x2="454.50" y2="230.50" stroke="#111" stroke-width="1.1" />
<line x1="452.30" y1="221.00" x2="456.70" y2="221.00" stroke="#111" stroke-width="1.1" />
<line x1="452.30" y1="230.50" x2="456.70" y2="230.50" stroke="#111" stroke-width="1.1" />
<polyline points="417.00,262.70 424.50,254.60 439.50,237.80 454.50,224.50 469.50,214.00 484.50,197.90 492.00,189.90" fill="none" stroke="#c41f35" stroke-width="1.3" stroke-linejoin="round"/>
<rect x="414.80" y="260.50" width="4.40" height="4.40" fill="#c41f35" stroke="none" stroke-width="1" />
<rect x="422.30" y="252.40" width="4.40" height="4.40" fill="#c41f35" stroke="none" stroke-width="1" />
<rect x="437.30" y="235.60" width="4.40" height="4.40" fill="#c41f35" stroke="none" stroke-width="1" />
<rect x="452.30" y="222.30" width="4.40" height="4.40" fill="#c41f35" stroke="none" stroke-width="1" />
<rect x="467.30" y="211.80" width="4.40" height="4.40" fill="#c41f35" stroke="none" stroke-width="1" />
<rect x="482.30" y="195.70" width="4.40" height="4.40" fill="#c41f35" stroke="none" stroke-width="1" />
<rect x="489.80" y="187.70" width="4.40" height="4.40" fill="#c41f35" stroke="none" stroke-width="1" />
<polyline points="417.00,262.70 424.50,252.40 439.50,235.50 454.50,221.30 469.50,208.70 484.50,194.10 492.00,187.00" fill="none" stroke="#3bb34a" stroke-width="1.3" stroke-linejoin="round"/>
<circle cx="417.00" cy="262.70" r="2.4" fill="#3bb34a" stroke="none" stroke-width="1"/>
<circle cx="424.50" cy="252.40" r="2.4" fill="#3bb34a" stroke="none" stroke-width="1"/>
<circle cx="439.50" cy="235.50" r="2.4" fill="#3bb34a" stroke="none" stroke-width="1"/>
<circle cx="454.50" cy="221.30" r="2.4" fill="#3bb34a" stroke="none" stroke-width="1"/>
<circle cx="469.50" cy="208.70" r="2.4" fill="#3bb34a" stroke="none" stroke-width="1"/>
<circle cx="484.50" cy="194.10" r="2.4" fill="#3bb34a" stroke="none" stroke-width="1"/>
<circle cx="492.00" cy="187.00" r="2.4" fill="#3bb34a" stroke="none" stroke-width="1"/>
<line x1="456.20" y1="256.80" x2="468.00" y2="256.80" stroke="#3bb34a" stroke-width="1.3" />
<circle cx="462.10" cy="256.80" r="2.3" fill="#3bb34a" stroke="none" stroke-width="1"/>
<text x="472.60" y="259.20" font-size="6.4" text-anchor="start" fill="#231f20" >Luc</text>
<line x1="456.20" y1="269.20" x2="468.00" y2="269.20" stroke="#c41f35" stroke-width="1.3" />
<rect x="460.10" y="267.20" width="4.00" height="4.00" fill="#c41f35" stroke="none" stroke-width="1" />
<text x="472.60" y="271.60" font-size="6.4" text-anchor="start" fill="#231f20" >shRNA</text>
<text x="7.00" y="340.60" font-size="11.2" text-anchor="start" fill="#111" font-weight="bold" style="stroke:#111;stroke-width:0.45px">E</text>
<text x="60.00" y="338.50" font-size="9.9" text-anchor="start" fill="#231f20" textLength="50.80" lengthAdjust="spacingAndGlyphs" >HEXIM1 +/-</text>
<text x="16.00" y="402.70" font-size="10.0" text-anchor="middle" fill="#231f20" textLength="86.50" lengthAdjust="spacingAndGlyphs" transform="rotate(-90 16.00 402.70)" >Live Fold Expansion</text>
<line x1="39.20" y1="352.90" x2="39.20" y2="467.70" stroke="#1a1a1a" stroke-width="1.5" />
<line x1="35.20" y1="353.50" x2="39.20" y2="353.50" stroke="#1a1a1a" stroke-width="1.3" />
<text x="33.00" y="356.40" font-size="8.3" text-anchor="end" fill="#231f20" >30</text>
<line x1="35.20" y1="390.80" x2="39.20" y2="390.80" stroke="#1a1a1a" stroke-width="1.3" />
<text x="33.00" y="393.70" font-size="8.3" text-anchor="end" fill="#231f20" >20</text>
<line x1="35.20" y1="428.90" x2="39.20" y2="428.90" stroke="#1a1a1a" stroke-width="1.3" />
<text x="33.00" y="431.80" font-size="8.3" text-anchor="end" fill="#231f20" >10</text>
<line x1="35.20" y1="467.00" x2="39.20" y2="467.00" stroke="#1a1a1a" stroke-width="1.3" />
<text x="33.00" y="469.90" font-size="8.3" text-anchor="end" fill="#231f20" >0.1</text>
<line x1="39.20" y1="467.00" x2="122.00" y2="467.00" stroke="#1a1a1a" stroke-width="1.5" />
<line x1="43.75" y1="467.00" x2="43.75" y2="470.50" stroke="#1a1a1a" stroke-width="1.1" />
<line x1="51.00" y1="467.00" x2="51.00" y2="470.50" stroke="#1a1a1a" stroke-width="1.1" />
<line x1="58.25" y1="467.00" x2="58.25" y2="470.50" stroke="#1a1a1a" stroke-width="1.1" />
<line x1="65.50" y1="467.00" x2="65.50" y2="470.50" stroke="#1a1a1a" stroke-width="1.1" />
<line x1="72.75" y1="467.00" x2="72.75" y2="470.50" stroke="#1a1a1a" stroke-width="1.1" />
<line x1="80.00" y1="467.00" x2="80.00" y2="470.50" stroke="#1a1a1a" stroke-width="1.1" />
<line x1="87.25" y1="467.00" x2="87.25" y2="470.50" stroke="#1a1a1a" stroke-width="1.1" />
<line x1="94.50" y1="467.00" x2="94.50" y2="470.50" stroke="#1a1a1a" stroke-width="1.1" />
<line x1="101.75" y1="467.00" x2="101.75" y2="470.50" stroke="#1a1a1a" stroke-width="1.1" />
<line x1="109.00" y1="467.00" x2="109.00" y2="470.50" stroke="#1a1a1a" stroke-width="1.1" />
<line x1="116.25" y1="467.00" x2="116.25" y2="470.50" stroke="#1a1a1a" stroke-width="1.1" />
<text x="43.75" y="480.30" font-size="8.5" text-anchor="middle" fill="#231f20" textLength="9.40" lengthAdjust="spacingAndGlyphs" >D0</text>
<text x="58.25" y="480.30" font-size="8.5" text-anchor="middle" fill="#231f20" textLength="9.40" lengthAdjust="spacingAndGlyphs" >D2</text>
<text x="72.75" y="480.30" font-size="8.5" text-anchor="middle" fill="#231f20" textLength="9.40" lengthAdjust="spacingAndGlyphs" >D4</text>
<text x="87.25" y="480.30" font-size="8.5" text-anchor="middle" fill="#231f20" textLength="9.40" lengthAdjust="spacingAndGlyphs" >D6</text>
<text x="101.75" y="480.30" font-size="8.5" text-anchor="middle" fill="#231f20" textLength="9.40" lengthAdjust="spacingAndGlyphs" >D8</text>
<text x="116.25" y="480.30" font-size="8.5" text-anchor="middle" fill="#231f20" textLength="13.40" lengthAdjust="spacingAndGlyphs" >D10</text>
<text x="85.40" y="496.20" font-size="8.8" text-anchor="middle" fill="#231f20" textLength="50.80" lengthAdjust="spacingAndGlyphs" >Maturation Day</text>
<line x1="116.25" y1="371.30" x2="116.25" y2="459.00" stroke="#111" stroke-width="1.0" />
<line x1="114.45" y1="371.30" x2="118.05" y2="371.30" stroke="#111" stroke-width="1.0" />
<line x1="114.45" y1="459.00" x2="118.05" y2="459.00" stroke="#111" stroke-width="1.0" />
<line x1="101.75" y1="429.30" x2="101.75" y2="448.00" stroke="#111" stroke-width="1.0" />
<line x1="99.95" y1="429.30" x2="103.55" y2="429.30" stroke="#111" stroke-width="1.0" />
<line x1="99.95" y1="448.00" x2="103.55" y2="448.00" stroke="#111" stroke-width="1.0" />
<line x1="87.25" y1="446.30" x2="87.25" y2="456.30" stroke="#111" stroke-width="1.0" />
<line x1="85.45" y1="446.30" x2="89.05" y2="446.30" stroke="#111" stroke-width="1.0" />
<line x1="85.45" y1="456.30" x2="89.05" y2="456.30" stroke="#111" stroke-width="1.0" />
<line x1="72.75" y1="454.00" x2="72.75" y2="462.00" stroke="#111" stroke-width="1.0" />
<line x1="70.95" y1="454.00" x2="74.55" y2="454.00" stroke="#111" stroke-width="1.0" />
<line x1="70.95" y1="462.00" x2="74.55" y2="462.00" stroke="#111" stroke-width="1.0" />
<line x1="116.25" y1="419.50" x2="116.25" y2="445.00" stroke="#111" stroke-width="1.0" />
<line x1="114.45" y1="419.50" x2="118.05" y2="419.50" stroke="#111" stroke-width="1.0" />
<line x1="114.45" y1="445.00" x2="118.05" y2="445.00" stroke="#111" stroke-width="1.0" />
<polyline points="43.75,462.50 51.00,462.20 58.25,462.00 65.50,461.50 72.75,461.30 87.25,461.30 101.75,459.50 116.25,455.00" fill="none" stroke="#53267d" stroke-width="1.3" stroke-linejoin="round"/>
<circle cx="43.75" cy="462.50" r="2.4" fill="#53267d" stroke="none" stroke-width="1"/>
<circle cx="51.00" cy="462.20" r="2.4" fill="#53267d" stroke="none" stroke-width="1"/>
<circle cx="58.25" cy="462.00" r="2.4" fill="#53267d" stroke="none" stroke-width="1"/>
<circle cx="65.50" cy="461.50" r="2.4" fill="#53267d" stroke="none" stroke-width="1"/>
<circle cx="72.75" cy="461.30" r="2.4" fill="#53267d" stroke="none" stroke-width="1"/>
<circle cx="87.25" cy="461.30" r="2.4" fill="#53267d" stroke="none" stroke-width="1"/>
<circle cx="101.75" cy="459.50" r="2.4" fill="#53267d" stroke="none" stroke-width="1"/>
<circle cx="116.25" cy="455.00" r="2.4" fill="#53267d" stroke="none" stroke-width="1"/>
<polyline points="43.75,462.50 51.00,462.00 58.25,460.00 65.50,461.00 72.75,459.00 87.25,459.00 101.75,456.30 116.25,452.00" fill="none" stroke="#16528f" stroke-width="1.3" stroke-linejoin="round"/>
<circle cx="43.75" cy="462.50" r="2.4" fill="#16528f" stroke="none" stroke-width="1"/>
<circle cx="51.00" cy="462.00" r="2.4" fill="#16528f" stroke="none" stroke-width="1"/>
<circle cx="58.25" cy="460.00" r="2.4" fill="#16528f" stroke="none" stroke-width="1"/>
<circle cx="65.50" cy="461.00" r="2.4" fill="#16528f" stroke="none" stroke-width="1"/>
<circle cx="72.75" cy="459.00" r="2.4" fill="#16528f" stroke="none" stroke-width="1"/>
<circle cx="87.25" cy="459.00" r="2.4" fill="#16528f" stroke="none" stroke-width="1"/>
<circle cx="101.75" cy="456.30" r="2.4" fill="#16528f" stroke="none" stroke-width="1"/>
<circle cx="116.25" cy="452.00" r="2.4" fill="#16528f" stroke="none" stroke-width="1"/>
<polyline points="43.75,462.50 51.00,460.00 58.25,461.00 65.50,458.80 72.75,457.00 87.25,455.00 101.75,452.00 116.25,436.30" fill="none" stroke="#c41f35" stroke-width="1.3" stroke-linejoin="round"/>
<circle cx="43.75" cy="462.50" r="2.4" fill="#c41f35" stroke="none" stroke-width="1"/>
<circle cx="51.00" cy="460.00" r="2.4" fill="#c41f35" stroke="none" stroke-width="1"/>
<circle cx="58.25" cy="461.00" r="2.4" fill="#c41f35" stroke="none" stroke-width="1"/>
<circle cx="65.50" cy="458.80" r="2.4" fill="#c41f35" stroke="none" stroke-width="1"/>
<circle cx="72.75" cy="457.00" r="2.4" fill="#c41f35" stroke="none" stroke-width="1"/>
<circle cx="87.25" cy="455.00" r="2.4" fill="#c41f35" stroke="none" stroke-width="1"/>
<circle cx="101.75" cy="452.00" r="2.4" fill="#c41f35" stroke="none" stroke-width="1"/>
<circle cx="116.25" cy="436.30" r="2.4" fill="#c41f35" stroke="none" stroke-width="1"/>
<polyline points="43.75,462.50 51.00,462.20 58.25,462.00 65.50,460.50 72.75,457.00 87.25,451.20 101.75,440.00 116.25,405.00" fill="none" stroke="#3bb34a" stroke-width="1.3" stroke-linejoin="round"/>
<circle cx="43.75" cy="462.50" r="2.4" fill="#3bb34a" stroke="none" stroke-width="1"/>
<circle cx="51.00" cy="462.20" r="2.4" fill="#3bb34a" stroke="none" stroke-width="1"/>
<circle cx="58.25" cy="462.00" r="2.4" fill="#3bb34a" stroke="none" stroke-width="1"/>
<circle cx="65.50" cy="460.50" r="2.4" fill="#3bb34a" stroke="none" stroke-width="1"/>
<circle cx="72.75" cy="457.00" r="2.4" fill="#3bb34a" stroke="none" stroke-width="1"/>
<circle cx="87.25" cy="451.20" r="2.4" fill="#3bb34a" stroke="none" stroke-width="1"/>
<circle cx="101.75" cy="440.00" r="2.4" fill="#3bb34a" stroke="none" stroke-width="1"/>
<circle cx="116.25" cy="405.00" r="2.4" fill="#3bb34a" stroke="none" stroke-width="1"/>
<line x1="49.50" y1="356.30" x2="60.00" y2="356.30" stroke="#3bb34a" stroke-width="1.3" />
<circle cx="54.60" cy="356.30" r="2.3" fill="#3bb34a" stroke="none" stroke-width="1"/>
<text x="66.30" y="358.60" font-size="6.4" text-anchor="start" fill="#231f20" >KC</text>
<line x1="49.50" y1="368.00" x2="60.00" y2="368.00" stroke="#16528f" stroke-width="1.3" />
<circle cx="54.60" cy="368.00" r="2.3" fill="#16528f" stroke="none" stroke-width="1"/>
<text x="66.30" y="370.30" font-size="6.4" text-anchor="start" fill="#231f20" textLength="21.80" lengthAdjust="spacingAndGlyphs" >Clone 1</text>
<line x1="49.50" y1="379.60" x2="60.00" y2="379.60" stroke="#c41f35" stroke-width="1.3" />
<circle cx="54.60" cy="379.60" r="2.3" fill="#c41f35" stroke="none" stroke-width="1"/>
<text x="66.30" y="381.90" font-size="6.4" text-anchor="start" fill="#231f20" textLength="21.80" lengthAdjust="spacingAndGlyphs" >Clone 2</text>
<line x1="49.50" y1="391.30" x2="60.00" y2="391.30" stroke="#53267d" stroke-width="1.3" />
<circle cx="54.60" cy="391.30" r="2.3" fill="#53267d" stroke="none" stroke-width="1"/>
<text x="66.30" y="393.60" font-size="6.4" text-anchor="start" fill="#231f20" textLength="21.80" lengthAdjust="spacingAndGlyphs" >Clone 3</text>
<text x="135.80" y="340.60" font-size="11.2" text-anchor="start" fill="#111" font-weight="bold" style="stroke:#111;stroke-width:0.45px">F</text>
<text x="196.40" y="338.50" font-size="10.2" text-anchor="start" fill="#231f20" textLength="33.80" lengthAdjust="spacingAndGlyphs" >Viability</text>
<text x="144.60" y="406.00" font-size="10.0" text-anchor="middle" fill="#231f20" textLength="36.00" lengthAdjust="spacingAndGlyphs" transform="rotate(-90 144.60 406.00)" >% Viable</text>
<line x1="166.00" y1="346.30" x2="166.00" y2="467.70" stroke="#1a1a1a" stroke-width="1.5" />
<line x1="162.00" y1="346.90" x2="166.00" y2="346.90" stroke="#1a1a1a" stroke-width="1.3" />
<text x="159.30" y="349.80" font-size="8.3" text-anchor="end" fill="#231f20" >100</text>
<line x1="162.00" y1="406.90" x2="166.00" y2="406.90" stroke="#1a1a1a" stroke-width="1.3" />
<text x="159.30" y="409.80" font-size="8.3" text-anchor="end" fill="#231f20" >50</text>
<line x1="162.00" y1="467.00" x2="166.00" y2="467.00" stroke="#1a1a1a" stroke-width="1.3" />
<text x="159.30" y="469.90" font-size="8.3" text-anchor="end" fill="#231f20" >0</text>
<line x1="161.90" y1="467.00" x2="252.60" y2="467.00" stroke="#1a1a1a" stroke-width="1.5" />
<line x1="169.80" y1="467.00" x2="169.80" y2="470.50" stroke="#1a1a1a" stroke-width="1.1" />
<line x1="177.67" y1="467.00" x2="177.67" y2="470.50" stroke="#1a1a1a" stroke-width="1.1" />
<line x1="185.54" y1="467.00" x2="185.54" y2="470.50" stroke="#1a1a1a" stroke-width="1.1" />
<line x1="193.41" y1="467.00" x2="193.41" y2="470.50" stroke="#1a1a1a" stroke-width="1.1" />
<line x1="201.28" y1="467.00" x2="201.28" y2="470.50" stroke="#1a1a1a" stroke-width="1.1" />
<line x1="209.15" y1="467.00" x2="209.15" y2="470.50" stroke="#1a1a1a" stroke-width="1.1" />
<line x1="217.02" y1="467.00" x2="217.02" y2="470.50" stroke="#1a1a1a" stroke-width="1.1" />
<line x1="224.89" y1="467.00" x2="224.89" y2="470.50" stroke="#1a1a1a" stroke-width="1.1" />
<line x1="232.76" y1="467.00" x2="232.76" y2="470.50" stroke="#1a1a1a" stroke-width="1.1" />
<line x1="240.63" y1="467.00" x2="240.63" y2="470.50" stroke="#1a1a1a" stroke-width="1.1" />
<line x1="248.50" y1="467.00" x2="248.50" y2="470.50" stroke="#1a1a1a" stroke-width="1.1" />
<line x1="161.90" y1="467.00" x2="166.00" y2="467.00" stroke="#111" stroke-width="1.2" />
<text x="169.80" y="481.00" font-size="8.5" text-anchor="middle" fill="#231f20" textLength="9.20" lengthAdjust="spacingAndGlyphs" >D0</text>
<text x="185.54" y="481.00" font-size="8.5" text-anchor="middle" fill="#231f20" textLength="9.20" lengthAdjust="spacingAndGlyphs" >D2</text>
<text x="201.28" y="481.00" font-size="8.5" text-anchor="middle" fill="#231f20" textLength="9.20" lengthAdjust="spacingAndGlyphs" >D4</text>
<text x="217.02" y="481.00" font-size="8.5" text-anchor="middle" fill="#231f20" textLength="9.20" lengthAdjust="spacingAndGlyphs" >D6</text>
<text x="232.76" y="481.00" font-size="8.5" text-anchor="middle" fill="#231f20" textLength="9.20" lengthAdjust="spacingAndGlyphs" >D8</text>
<text x="248.50" y="481.00" font-size="8.5" text-anchor="middle" fill="#231f20" textLength="13.40" lengthAdjust="spacingAndGlyphs" >D10</text>
<text x="213.30" y="495.50" font-size="8.8" text-anchor="middle" fill="#231f20" textLength="51.20" lengthAdjust="spacingAndGlyphs" >Maturation Day</text>
<line x1="213.88" y1="374.00" x2="213.88" y2="386.60" stroke="#111" stroke-width="1.0" />
<line x1="212.08" y1="374.00" x2="215.68" y2="374.00" stroke="#111" stroke-width="1.0" />
<line x1="212.08" y1="386.60" x2="215.68" y2="386.60" stroke="#111" stroke-width="1.0" />
<line x1="229.74" y1="368.70" x2="229.74" y2="375.00" stroke="#111" stroke-width="1.0" />
<line x1="227.94" y1="368.70" x2="231.54" y2="368.70" stroke="#111" stroke-width="1.0" />
<line x1="227.94" y1="375.00" x2="231.54" y2="375.00" stroke="#111" stroke-width="1.0" />
<line x1="245.60" y1="360.30" x2="245.60" y2="369.70" stroke="#111" stroke-width="1.0" />
<line x1="243.80" y1="360.30" x2="247.40" y2="360.30" stroke="#111" stroke-width="1.0" />
<line x1="243.80" y1="369.70" x2="247.40" y2="369.70" stroke="#111" stroke-width="1.0" />
<line x1="219.48" y1="391.40" x2="219.48" y2="405.50" stroke="#111" stroke-width="1.0" />
<line x1="217.68" y1="391.40" x2="221.28" y2="391.40" stroke="#111" stroke-width="1.0" />
<line x1="217.68" y1="405.50" x2="221.28" y2="405.50" stroke="#111" stroke-width="1.0" />
<line x1="235.34" y1="371.20" x2="235.34" y2="418.80" stroke="#111" stroke-width="1.0" />
<line x1="233.54" y1="371.20" x2="237.14" y2="371.20" stroke="#111" stroke-width="1.0" />
<line x1="233.54" y1="418.80" x2="237.14" y2="418.80" stroke="#111" stroke-width="1.0" />
<line x1="251.20" y1="385.50" x2="251.20" y2="402.40" stroke="#111" stroke-width="1.0" />
<line x1="249.40" y1="385.50" x2="253.00" y2="385.50" stroke="#111" stroke-width="1.0" />
<line x1="249.40" y1="402.40" x2="253.00" y2="402.40" stroke="#111" stroke-width="1.0" />
<line x1="202.02" y1="380.00" x2="202.02" y2="402.40" stroke="#111" stroke-width="1.0" />
<line x1="200.22" y1="380.00" x2="203.82" y2="380.00" stroke="#111" stroke-width="1.0" />
<line x1="200.22" y1="402.40" x2="203.82" y2="402.40" stroke="#111" stroke-width="1.0" />
<line x1="233.74" y1="397.00" x2="233.74" y2="418.80" stroke="#111" stroke-width="1.0" />
<line x1="231.94" y1="397.00" x2="235.54" y2="397.00" stroke="#111" stroke-width="1.0" />
<line x1="231.94" y1="418.80" x2="235.54" y2="418.80" stroke="#111" stroke-width="1.0" />
<line x1="249.60" y1="386.60" x2="249.60" y2="409.70" stroke="#111" stroke-width="1.0" />
<line x1="247.80" y1="386.60" x2="251.40" y2="386.60" stroke="#111" stroke-width="1.0" />
<line x1="247.80" y1="409.70" x2="251.40" y2="409.70" stroke="#111" stroke-width="1.0" />
<line x1="215.88" y1="401.30" x2="215.88" y2="416.00" stroke="#111" stroke-width="1.0" />
<line x1="214.08" y1="401.30" x2="217.68" y2="401.30" stroke="#111" stroke-width="1.0" />
<line x1="214.08" y1="416.00" x2="217.68" y2="416.00" stroke="#111" stroke-width="1.0" />
<line x1="217.88" y1="414.00" x2="217.88" y2="424.00" stroke="#111" stroke-width="1.0" />
<line x1="216.08" y1="414.00" x2="219.68" y2="414.00" stroke="#111" stroke-width="1.0" />
<line x1="216.08" y1="424.00" x2="219.68" y2="424.00" stroke="#111" stroke-width="1.0" />
<polyline points="170.30,346.90 178.23,357.10 186.16,364.80 194.09,359.60 202.02,390.80 217.88,420.30 233.74,407.60 249.60,401.30" fill="none" stroke="#53267d" stroke-width="1.3" stroke-linejoin="round"/>
<circle cx="170.30" cy="346.90" r="2.4" fill="#53267d" stroke="none" stroke-width="1"/>
<circle cx="178.23" cy="357.10" r="2.4" fill="#53267d" stroke="none" stroke-width="1"/>
<circle cx="186.16" cy="364.80" r="2.4" fill="#53267d" stroke="none" stroke-width="1"/>
<circle cx="194.09" cy="359.60" r="2.4" fill="#53267d" stroke="none" stroke-width="1"/>
<circle cx="202.02" cy="390.80" r="2.4" fill="#53267d" stroke="none" stroke-width="1"/>
<circle cx="217.88" cy="420.30" r="2.4" fill="#53267d" stroke="none" stroke-width="1"/>
<circle cx="233.74" cy="407.60" r="2.4" fill="#53267d" stroke="none" stroke-width="1"/>
<circle cx="249.60" cy="401.30" r="2.4" fill="#53267d" stroke="none" stroke-width="1"/>
<polyline points="168.30,346.90 176.23,357.10 184.16,360.80 192.09,360.20 200.02,378.10 215.88,409.70 231.74,402.40 247.60,394.40" fill="none" stroke="#16528f" stroke-width="1.3" stroke-linejoin="round"/>
<circle cx="168.30" cy="346.90" r="2.4" fill="#16528f" stroke="none" stroke-width="1"/>
<circle cx="176.23" cy="357.10" r="2.4" fill="#16528f" stroke="none" stroke-width="1"/>
<circle cx="184.16" cy="360.80" r="2.4" fill="#16528f" stroke="none" stroke-width="1"/>
<circle cx="192.09" cy="360.20" r="2.4" fill="#16528f" stroke="none" stroke-width="1"/>
<circle cx="200.02" cy="378.10" r="2.4" fill="#16528f" stroke="none" stroke-width="1"/>
<circle cx="215.88" cy="409.70" r="2.4" fill="#16528f" stroke="none" stroke-width="1"/>
<circle cx="231.74" cy="402.40" r="2.4" fill="#16528f" stroke="none" stroke-width="1"/>
<circle cx="247.60" cy="394.40" r="2.4" fill="#16528f" stroke="none" stroke-width="1"/>
<polyline points="171.90,346.90 179.83,350.20 187.76,356.20 195.69,373.50 203.62,380.40 219.48,402.00 235.34,386.20 251.20,394.40" fill="none" stroke="#c41f35" stroke-width="1.3" stroke-linejoin="round"/>
<circle cx="171.90" cy="346.90" r="2.4" fill="#c41f35" stroke="none" stroke-width="1"/>
<circle cx="179.83" cy="350.20" r="2.4" fill="#c41f35" stroke="none" stroke-width="1"/>
<circle cx="187.76" cy="356.20" r="2.4" fill="#c41f35" stroke="none" stroke-width="1"/>
<circle cx="195.69" cy="373.50" r="2.4" fill="#c41f35" stroke="none" stroke-width="1"/>
<circle cx="203.62" cy="380.40" r="2.4" fill="#c41f35" stroke="none" stroke-width="1"/>
<circle cx="219.48" cy="402.00" r="2.4" fill="#c41f35" stroke="none" stroke-width="1"/>
<circle cx="235.34" cy="386.20" r="2.4" fill="#c41f35" stroke="none" stroke-width="1"/>
<circle cx="251.20" cy="394.40" r="2.4" fill="#c41f35" stroke="none" stroke-width="1"/>
<polyline points="166.30,346.90 174.23,350.60 182.16,346.90 190.09,346.90 198.02,372.10 213.88,381.00 229.74,372.30 245.60,365.10" fill="none" stroke="#3bb34a" stroke-width="1.3" stroke-linejoin="round"/>
<circle cx="166.30" cy="346.90" r="2.4" fill="#3bb34a" stroke="none" stroke-width="1"/>
<circle cx="174.23" cy="350.60" r="2.4" fill="#3bb34a" stroke="none" stroke-width="1"/>
<circle cx="182.16" cy="346.90" r="2.4" fill="#3bb34a" stroke="none" stroke-width="1"/>
<circle cx="190.09" cy="346.90" r="2.4" fill="#3bb34a" stroke="none" stroke-width="1"/>
<circle cx="198.02" cy="372.10" r="2.4" fill="#3bb34a" stroke="none" stroke-width="1"/>
<circle cx="213.88" cy="381.00" r="2.4" fill="#3bb34a" stroke="none" stroke-width="1"/>
<circle cx="229.74" cy="372.30" r="2.4" fill="#3bb34a" stroke="none" stroke-width="1"/>
<circle cx="245.60" cy="365.10" r="2.4" fill="#3bb34a" stroke="none" stroke-width="1"/>
<line x1="171.40" y1="422.20" x2="182.10" y2="422.20" stroke="#3bb34a" stroke-width="1.3" />
<circle cx="176.70" cy="422.20" r="2.3" fill="#3bb34a" stroke="none" stroke-width="1"/>
<text x="188.40" y="424.50" font-size="6.4" text-anchor="start" fill="#231f20" >KC</text>
<line x1="171.40" y1="433.60" x2="182.10" y2="433.60" stroke="#16528f" stroke-width="1.3" />
<circle cx="176.70" cy="433.60" r="2.3" fill="#16528f" stroke="none" stroke-width="1"/>
<text x="188.40" y="435.90" font-size="6.4" text-anchor="start" fill="#231f20" textLength="21.80" lengthAdjust="spacingAndGlyphs" >Clone 1</text>
<line x1="171.40" y1="445.70" x2="182.10" y2="445.70" stroke="#c41f35" stroke-width="1.3" />
<circle cx="176.70" cy="445.70" r="2.3" fill="#c41f35" stroke="none" stroke-width="1"/>
<text x="188.40" y="448.00" font-size="6.4" text-anchor="start" fill="#231f20" textLength="21.80" lengthAdjust="spacingAndGlyphs" >Clone 2</text>
<line x1="171.40" y1="457.60" x2="182.10" y2="457.60" stroke="#53267d" stroke-width="1.3" />
<circle cx="176.70" cy="457.60" r="2.3" fill="#53267d" stroke="none" stroke-width="1"/>
<text x="188.40" y="459.90" font-size="6.4" text-anchor="start" fill="#231f20" textLength="21.80" lengthAdjust="spacingAndGlyphs" >Clone 3</text>
<text x="267.60" y="340.60" font-size="11.2" text-anchor="start" fill="#111" font-weight="bold" style="stroke:#111;stroke-width:0.45px">G</text>
<text x="329.50" y="338.50" font-size="10.0" text-anchor="start" fill="#231f20" textLength="29.20" lengthAdjust="spacingAndGlyphs" >shRNA</text>
<text x="277.00" y="405.90" font-size="10.0" text-anchor="middle" fill="#231f20" textLength="98.60" lengthAdjust="spacingAndGlyphs" transform="rotate(-90 277.00 405.90)" >Live Flod Amplification</text>
<line x1="297.60" y1="356.10" x2="297.60" y2="467.40" stroke="#1a1a1a" stroke-width="1.5" />
<line x1="293.60" y1="356.70" x2="297.60" y2="356.70" stroke="#1a1a1a" stroke-width="1.3" />
<text x="291.40" y="359.60" font-size="8.3" text-anchor="end" fill="#231f20" >80</text>
<line x1="293.60" y1="384.30" x2="297.60" y2="384.30" stroke="#1a1a1a" stroke-width="1.3" />
<text x="291.40" y="387.20" font-size="8.3" text-anchor="end" fill="#231f20" >60</text>
<line x1="293.60" y1="411.80" x2="297.60" y2="411.80" stroke="#1a1a1a" stroke-width="1.3" />
<text x="291.40" y="414.70" font-size="8.3" text-anchor="end" fill="#231f20" >40</text>
<line x1="293.60" y1="439.20" x2="297.60" y2="439.20" stroke="#1a1a1a" stroke-width="1.3" />
<text x="291.40" y="442.10" font-size="8.3" text-anchor="end" fill="#231f20" >20</text>
<line x1="293.60" y1="466.70" x2="297.60" y2="466.70" stroke="#1a1a1a" stroke-width="1.3" />
<text x="291.40" y="469.60" font-size="8.3" text-anchor="end" fill="#231f20" >0</text>
<line x1="297.60" y1="466.70" x2="380.80" y2="466.70" stroke="#1a1a1a" stroke-width="1.5" />
<line x1="302.10" y1="466.70" x2="302.10" y2="470.20" stroke="#1a1a1a" stroke-width="1.1" />
<line x1="309.50" y1="466.70" x2="309.50" y2="470.20" stroke="#1a1a1a" stroke-width="1.1" />
<line x1="316.90" y1="466.70" x2="316.90" y2="470.20" stroke="#1a1a1a" stroke-width="1.1" />
<line x1="324.30" y1="466.70" x2="324.30" y2="470.20" stroke="#1a1a1a" stroke-width="1.1" />
<line x1="331.70" y1="466.70" x2="331.70" y2="470.20" stroke="#1a1a1a" stroke-width="1.1" />
<line x1="339.10" y1="466.70" x2="339.10" y2="470.20" stroke="#1a1a1a" stroke-width="1.1" />
<line x1="346.50" y1="466.70" x2="346.50" y2="470.20" stroke="#1a1a1a" stroke-width="1.1" />
<line x1="353.90" y1="466.70" x2="353.90" y2="470.20" stroke="#1a1a1a" stroke-width="1.1" />
<line x1="361.30" y1="466.70" x2="361.30" y2="470.20" stroke="#1a1a1a" stroke-width="1.1" />
<line x1="368.70" y1="466.70" x2="368.70" y2="470.20" stroke="#1a1a1a" stroke-width="1.1" />
<line x1="376.10" y1="466.70" x2="376.10" y2="470.20" stroke="#1a1a1a" stroke-width="1.1" />
<text x="302.10" y="481.00" font-size="8.5" text-anchor="middle" fill="#231f20" textLength="9.20" lengthAdjust="spacingAndGlyphs" >D0</text>
<text x="316.90" y="481.00" font-size="8.5" text-anchor="middle" fill="#231f20" textLength="9.20" lengthAdjust="spacingAndGlyphs" >D2</text>
<text x="331.70" y="481.00" font-size="8.5" text-anchor="middle" fill="#231f20" textLength="9.20" lengthAdjust="spacingAndGlyphs" >D4</text>
<text x="346.50" y="481.00" font-size="8.5" text-anchor="middle" fill="#231f20" textLength="9.20" lengthAdjust="spacingAndGlyphs" >D6</text>
<text x="361.30" y="481.00" font-size="8.5" text-anchor="middle" fill="#231f20" textLength="9.20" lengthAdjust="spacingAndGlyphs" >D8</text>
<text x="376.10" y="481.00" font-size="8.5" text-anchor="middle" fill="#231f20" textLength="13.40" lengthAdjust="spacingAndGlyphs" >D10</text>
<text x="344.60" y="496.40" font-size="8.8" text-anchor="middle" fill="#231f20" textLength="51.20" lengthAdjust="spacingAndGlyphs" >Maturation Day</text>
<line x1="376.10" y1="385.90" x2="376.10" y2="405.40" stroke="#111" stroke-width="1.0" />
<line x1="374.30" y1="385.90" x2="377.90" y2="385.90" stroke="#111" stroke-width="1.0" />
<line x1="374.30" y1="405.40" x2="377.90" y2="405.40" stroke="#111" stroke-width="1.0" />
<line x1="361.30" y1="425.30" x2="361.30" y2="430.50" stroke="#111" stroke-width="1.0" />
<line x1="359.50" y1="425.30" x2="363.10" y2="425.30" stroke="#111" stroke-width="1.0" />
<line x1="359.50" y1="430.50" x2="363.10" y2="430.50" stroke="#111" stroke-width="1.0" />
<line x1="376.10" y1="431.20" x2="376.10" y2="437.20" stroke="#111" stroke-width="1.0" />
<line x1="374.30" y1="431.20" x2="377.90" y2="431.20" stroke="#111" stroke-width="1.0" />
<line x1="374.30" y1="437.20" x2="377.90" y2="437.20" stroke="#111" stroke-width="1.0" />
<polyline points="302.10,465.00 316.90,460.40 331.70,455.10 346.50,456.20 361.30,445.20 376.10,434.60" fill="none" stroke="#c41f35" stroke-width="1.3" stroke-linejoin="round"/>
<rect x="299.90" y="462.80" width="4.40" height="4.40" fill="#c41f35" stroke="none" stroke-width="1" />
<rect x="314.70" y="458.20" width="4.40" height="4.40" fill="#c41f35" stroke="none" stroke-width="1" />
<rect x="329.50" y="452.90" width="4.40" height="4.40" fill="#c41f35" stroke="none" stroke-width="1" />
<rect x="344.30" y="454.00" width="4.40" height="4.40" fill="#c41f35" stroke="none" stroke-width="1" />
<rect x="359.10" y="443.00" width="4.40" height="4.40" fill="#c41f35" stroke="none" stroke-width="1" />
<rect x="373.90" y="432.40" width="4.40" height="4.40" fill="#c41f35" stroke="none" stroke-width="1" />
<polyline points="302.10,465.00 316.90,460.40 331.70,451.90 346.50,451.30 361.30,427.60 376.10,395.40" fill="none" stroke="#3bb34a" stroke-width="1.3" stroke-linejoin="round"/>
<circle cx="302.10" cy="465.00" r="2.4" fill="#3bb34a" stroke="none" stroke-width="1"/>
<circle cx="316.90" cy="460.40" r="2.4" fill="#3bb34a" stroke="none" stroke-width="1"/>
<circle cx="331.70" cy="451.90" r="2.4" fill="#3bb34a" stroke="none" stroke-width="1"/>
<circle cx="346.50" cy="451.30" r="2.4" fill="#3bb34a" stroke="none" stroke-width="1"/>
<circle cx="361.30" cy="427.60" r="2.4" fill="#3bb34a" stroke="none" stroke-width="1"/>
<circle cx="376.10" cy="395.40" r="2.4" fill="#3bb34a" stroke="none" stroke-width="1"/>
<line x1="308.30" y1="361.30" x2="319.30" y2="361.30" stroke="#3bb34a" stroke-width="1.3" />
<circle cx="313.80" cy="361.30" r="2.3" fill="#3bb34a" stroke="none" stroke-width="1"/>
<text x="323.30" y="363.70" font-size="6.4" text-anchor="start" fill="#231f20" >Luc</text>
<line x1="308.30" y1="373.80" x2="319.30" y2="373.80" stroke="#c41f35" stroke-width="1.3" />
<rect x="311.80" y="371.80" width="4.00" height="4.00" fill="#c41f35" stroke="none" stroke-width="1" />
<text x="323.30" y="376.20" font-size="6.4" text-anchor="start" fill="#231f20" >shRNA</text>
<text x="396.00" y="340.80" font-size="11.2" text-anchor="start" fill="#111" font-weight="bold" style="stroke:#111;stroke-width:0.45px">H</text>
<text x="457.20" y="338.80" font-size="10.2" text-anchor="start" fill="#231f20" textLength="33.80" lengthAdjust="spacingAndGlyphs" >Viability</text>
<text x="405.00" y="406.20" font-size="10.0" text-anchor="middle" fill="#231f20" textLength="62.00" lengthAdjust="spacingAndGlyphs" transform="rotate(-90 405.00 406.20)" >Percent Viable</text>
<line x1="427.10" y1="354.00" x2="427.10" y2="467.30" stroke="#1a1a1a" stroke-width="1.5" />
<line x1="423.10" y1="354.60" x2="427.10" y2="354.60" stroke="#1a1a1a" stroke-width="1.3" />
<text x="421.30" y="357.50" font-size="8.3" text-anchor="end" fill="#231f20" >100</text>
<line x1="423.10" y1="410.60" x2="427.10" y2="410.60" stroke="#1a1a1a" stroke-width="1.3" />
<text x="421.30" y="413.50" font-size="8.3" text-anchor="end" fill="#231f20" >50</text>
<line x1="423.10" y1="466.60" x2="427.10" y2="466.60" stroke="#1a1a1a" stroke-width="1.3" />
<text x="421.30" y="469.50" font-size="8.3" text-anchor="end" fill="#231f20" >0</text>
<line x1="427.10" y1="466.60" x2="512.30" y2="466.60" stroke="#1a1a1a" stroke-width="1.5" />
<line x1="431.80" y1="466.60" x2="431.80" y2="470.10" stroke="#1a1a1a" stroke-width="1.1" />
<line x1="439.30" y1="466.60" x2="439.30" y2="470.10" stroke="#1a1a1a" stroke-width="1.1" />
<line x1="446.80" y1="466.60" x2="446.80" y2="470.10" stroke="#1a1a1a" stroke-width="1.1" />
<line x1="454.30" y1="466.60" x2="454.30" y2="470.10" stroke="#1a1a1a" stroke-width="1.1" />
<line x1="461.80" y1="466.60" x2="461.80" y2="470.10" stroke="#1a1a1a" stroke-width="1.1" />
<line x1="469.30" y1="466.60" x2="469.30" y2="470.10" stroke="#1a1a1a" stroke-width="1.1" />
<line x1="476.80" y1="466.60" x2="476.80" y2="470.10" stroke="#1a1a1a" stroke-width="1.1" />
<line x1="484.30" y1="466.60" x2="484.30" y2="470.10" stroke="#1a1a1a" stroke-width="1.1" />
<line x1="491.80" y1="466.60" x2="491.80" y2="470.10" stroke="#1a1a1a" stroke-width="1.1" />
<line x1="499.30" y1="466.60" x2="499.30" y2="470.10" stroke="#1a1a1a" stroke-width="1.1" />
<line x1="506.80" y1="466.60" x2="506.80" y2="470.10" stroke="#1a1a1a" stroke-width="1.1" />
<text x="431.80" y="481.00" font-size="8.5" text-anchor="middle" fill="#231f20" textLength="9.20" lengthAdjust="spacingAndGlyphs" >D0</text>
<text x="446.80" y="481.00" font-size="8.5" text-anchor="middle" fill="#231f20" textLength="9.20" lengthAdjust="spacingAndGlyphs" >D2</text>
<text x="461.80" y="481.00" font-size="8.5" text-anchor="middle" fill="#231f20" textLength="9.20" lengthAdjust="spacingAndGlyphs" >D4</text>
<text x="476.80" y="481.00" font-size="8.5" text-anchor="middle" fill="#231f20" textLength="9.20" lengthAdjust="spacingAndGlyphs" >D6</text>
<text x="491.80" y="481.00" font-size="8.5" text-anchor="middle" fill="#231f20" textLength="9.20" lengthAdjust="spacingAndGlyphs" >D8</text>
<text x="506.80" y="481.00" font-size="8.5" text-anchor="middle" fill="#231f20" textLength="13.40" lengthAdjust="spacingAndGlyphs" >D10</text>
<text x="473.40" y="495.60" font-size="8.8" text-anchor="middle" fill="#231f20" textLength="50.90" lengthAdjust="spacingAndGlyphs" >Maturation Day</text>
<line x1="447.26" y1="356.50" x2="447.26" y2="363.50" stroke="#111" stroke-width="1.0" />
<line x1="445.46" y1="356.50" x2="449.06" y2="356.50" stroke="#111" stroke-width="1.0" />
<line x1="445.46" y1="363.50" x2="449.06" y2="363.50" stroke="#111" stroke-width="1.0" />
<line x1="462.22" y1="357.50" x2="462.22" y2="364.00" stroke="#111" stroke-width="1.0" />
<line x1="460.42" y1="357.50" x2="464.02" y2="357.50" stroke="#111" stroke-width="1.0" />
<line x1="460.42" y1="364.00" x2="464.02" y2="364.00" stroke="#111" stroke-width="1.0" />
<line x1="477.18" y1="358.50" x2="477.18" y2="371.50" stroke="#111" stroke-width="1.0" />
<line x1="475.38" y1="358.50" x2="478.98" y2="358.50" stroke="#111" stroke-width="1.0" />
<line x1="475.38" y1="371.50" x2="478.98" y2="371.50" stroke="#111" stroke-width="1.0" />
<line x1="492.14" y1="378.50" x2="492.14" y2="382.50" stroke="#111" stroke-width="1.0" />
<line x1="490.34" y1="378.50" x2="493.94" y2="378.50" stroke="#111" stroke-width="1.0" />
<line x1="490.34" y1="382.50" x2="493.94" y2="382.50" stroke="#111" stroke-width="1.0" />
<line x1="507.10" y1="381.00" x2="507.10" y2="389.00" stroke="#111" stroke-width="1.0" />
<line x1="505.30" y1="381.00" x2="508.90" y2="381.00" stroke="#111" stroke-width="1.0" />
<line x1="505.30" y1="389.00" x2="508.90" y2="389.00" stroke="#111" stroke-width="1.0" />
<line x1="462.22" y1="364.50" x2="462.22" y2="371.50" stroke="#111" stroke-width="1.0" />
<line x1="460.42" y1="364.50" x2="464.02" y2="364.50" stroke="#111" stroke-width="1.0" />
<line x1="460.42" y1="371.50" x2="464.02" y2="371.50" stroke="#111" stroke-width="1.0" />
<line x1="477.18" y1="373.50" x2="477.18" y2="382.00" stroke="#111" stroke-width="1.0" />
<line x1="475.38" y1="373.50" x2="478.98" y2="373.50" stroke="#111" stroke-width="1.0" />
<line x1="475.38" y1="382.00" x2="478.98" y2="382.00" stroke="#111" stroke-width="1.0" />
<line x1="492.14" y1="388.50" x2="492.14" y2="397.00" stroke="#111" stroke-width="1.0" />
<line x1="490.34" y1="388.50" x2="493.94" y2="388.50" stroke="#111" stroke-width="1.0" />
<line x1="490.34" y1="397.00" x2="493.94" y2="397.00" stroke="#111" stroke-width="1.0" />
<line x1="507.10" y1="393.00" x2="507.10" y2="400.00" stroke="#111" stroke-width="1.0" />
<line x1="505.30" y1="393.00" x2="508.90" y2="393.00" stroke="#111" stroke-width="1.0" />
<line x1="505.30" y1="400.00" x2="508.90" y2="400.00" stroke="#111" stroke-width="1.0" />
<polyline points="432.30,355.10 447.26,360.30 462.22,368.00 477.18,377.70 492.14,392.70 507.10,396.60" fill="none" stroke="#c41f35" stroke-width="1.3" stroke-linejoin="round"/>
<rect x="430.10" y="352.90" width="4.40" height="4.40" fill="#c41f35" stroke="none" stroke-width="1" />
<rect x="445.06" y="358.10" width="4.40" height="4.40" fill="#c41f35" stroke="none" stroke-width="1" />
<rect x="460.02" y="365.80" width="4.40" height="4.40" fill="#c41f35" stroke="none" stroke-width="1" />
<rect x="474.98" y="375.50" width="4.40" height="4.40" fill="#c41f35" stroke="none" stroke-width="1" />
<rect x="489.94" y="390.50" width="4.40" height="4.40" fill="#c41f35" stroke="none" stroke-width="1" />
<rect x="504.90" y="394.40" width="4.40" height="4.40" fill="#c41f35" stroke="none" stroke-width="1" />
<polyline points="432.30,355.10 447.26,357.70 462.22,360.80 477.18,364.90 492.14,380.50 507.10,384.90" fill="none" stroke="#3bb34a" stroke-width="1.3" stroke-linejoin="round"/>
<circle cx="432.30" cy="355.10" r="2.4" fill="#3bb34a" stroke="none" stroke-width="1"/>
<circle cx="447.26" cy="357.70" r="2.4" fill="#3bb34a" stroke="none" stroke-width="1"/>
<circle cx="462.22" cy="360.80" r="2.4" fill="#3bb34a" stroke="none" stroke-width="1"/>
<circle cx="477.18" cy="364.90" r="2.4" fill="#3bb34a" stroke="none" stroke-width="1"/>
<circle cx="492.14" cy="380.50" r="2.4" fill="#3bb34a" stroke="none" stroke-width="1"/>
<circle cx="507.10" cy="384.90" r="2.4" fill="#3bb34a" stroke="none" stroke-width="1"/>
<line x1="437.80" y1="424.00" x2="448.40" y2="424.00" stroke="#3bb34a" stroke-width="1.3" />
<circle cx="443.10" cy="424.00" r="2.3" fill="#3bb34a" stroke="none" stroke-width="1"/>
<text x="452.70" y="426.40" font-size="6.4" text-anchor="start" fill="#231f20" >Luc</text>
<line x1="437.80" y1="436.70" x2="448.40" y2="436.70" stroke="#c41f35" stroke-width="1.3" />
<rect x="441.10" y="434.70" width="4.00" height="4.00" fill="#c41f35" stroke="none" stroke-width="1" />
<text x="452.70" y="439.10" font-size="6.4" text-anchor="start" fill="#231f20" >shRNA</text>
<rect x="7.40" y="514.70" width="2.20" height="7.70" fill="#111" stroke="none" stroke-width="1" />
<rect x="22.60" y="519.30" width="1.20" height="1.20" fill="#3a3a3a" stroke="none" stroke-width="1" />
<rect x="22.60" y="521.40" width="1.20" height="4.30" fill="#3a3a3a" stroke="none" stroke-width="1" />
<text x="44.60" y="522.40" font-size="10.0" text-anchor="start" fill="#231f20" textLength="36.00" lengthAdjust="spacingAndGlyphs" >Cell Size</text>
<text x="15.6" y="586.2" font-size="9.6" text-anchor="middle" fill="#231f20" transform="rotate(-90 15.6 586.2)">Cell Size (um<tspan font-size="5.8" dy="-3.6">2</tspan><tspan dy="3.6">)</tspan></text>
<line x1="44.80" y1="539.80" x2="44.80" y2="641.50" stroke="#1a1a1a" stroke-width="1.5" />
<line x1="40.80" y1="540.40" x2="44.80" y2="540.40" stroke="#1a1a1a" stroke-width="1.3" />
<text x="39.00" y="543.30" font-size="8.3" text-anchor="end" fill="#231f20" >130</text>
<line x1="40.80" y1="573.80" x2="44.80" y2="573.80" stroke="#1a1a1a" stroke-width="1.3" />
<text x="39.00" y="576.70" font-size="8.3" text-anchor="end" fill="#231f20" >120</text>
<line x1="40.80" y1="607.30" x2="44.80" y2="607.30" stroke="#1a1a1a" stroke-width="1.3" />
<text x="39.00" y="610.20" font-size="8.3" text-anchor="end" fill="#231f20" >110</text>
<line x1="40.80" y1="640.80" x2="44.80" y2="640.80" stroke="#1a1a1a" stroke-width="1.3" />
<text x="39.00" y="643.70" font-size="8.3" text-anchor="end" fill="#231f20" >100</text>
<line x1="44.80" y1="640.80" x2="99.40" y2="640.80" stroke="#1a1a1a" stroke-width="1.5" />
<line x1="56.70" y1="640.80" x2="56.70" y2="644.30" stroke="#1a1a1a" stroke-width="1.1" />
<line x1="82.50" y1="640.80" x2="82.50" y2="644.30" stroke="#1a1a1a" stroke-width="1.1" />
<rect x="47.20" y="545.00" width="7.40" height="95.20" fill="#3bb34a" stroke="none" stroke-width="1" />
<rect x="57.10" y="547.30" width="7.40" height="92.90" fill="#c41f35" stroke="none" stroke-width="1" />
<rect x="73.60" y="631.30" width="8.40" height="8.90" fill="#3bb34a" stroke="none" stroke-width="1" />
<rect x="84.20" y="597.10" width="7.20" height="43.10" fill="#c41f35" stroke="none" stroke-width="1" />
<line x1="50.90" y1="542.50" x2="50.90" y2="547.50" stroke="#111" stroke-width="1.05" />
<line x1="49.30" y1="542.50" x2="52.50" y2="542.50" stroke="#111" stroke-width="1.05" />
<line x1="49.30" y1="547.50" x2="52.50" y2="547.50" stroke="#111" stroke-width="1.05" />
<circle cx="50.90" cy="541.00" r="1.5" fill="#111" stroke="none" stroke-width="1"/>
<circle cx="50.90" cy="546.00" r="1.5" fill="#111" stroke="none" stroke-width="1"/>
<circle cx="50.90" cy="549.00" r="1.5" fill="#111" stroke="none" stroke-width="1"/>
<line x1="60.80" y1="546.00" x2="60.80" y2="549.00" stroke="#111" stroke-width="1.05" />
<line x1="59.20" y1="546.00" x2="62.40" y2="546.00" stroke="#111" stroke-width="1.05" />
<line x1="59.20" y1="549.00" x2="62.40" y2="549.00" stroke="#111" stroke-width="1.05" />
<polygon points="60.8,543.5 59.3,546.1 62.3,546.1" fill="#111"/>
<circle cx="59.50" cy="548.00" r="1.5" fill="#111" stroke="none" stroke-width="1"/>
<circle cx="62.00" cy="548.50" r="1.5" fill="#111" stroke="none" stroke-width="1"/>
<line x1="77.80" y1="629.50" x2="77.80" y2="633.50" stroke="#111" stroke-width="1.05" />
<line x1="76.20" y1="629.50" x2="79.40" y2="629.50" stroke="#111" stroke-width="1.05" />
<line x1="76.20" y1="633.50" x2="79.40" y2="633.50" stroke="#111" stroke-width="1.05" />
<circle cx="76.00" cy="627.50" r="1.5" fill="#111" stroke="none" stroke-width="1"/>
<circle cx="79.50" cy="629.00" r="1.5" fill="#111" stroke="none" stroke-width="1"/>
<circle cx="77.80" cy="634.50" r="1.5" fill="#111" stroke="none" stroke-width="1"/>
<line x1="87.80" y1="594.00" x2="87.80" y2="600.50" stroke="#111" stroke-width="1.05" />
<line x1="86.20" y1="594.00" x2="89.40" y2="594.00" stroke="#111" stroke-width="1.05" />
<line x1="86.20" y1="600.50" x2="89.40" y2="600.50" stroke="#111" stroke-width="1.05" />
<circle cx="87.80" cy="592.50" r="1.5" fill="#111" stroke="none" stroke-width="1"/>
<circle cx="87.80" cy="596.00" r="1.5" fill="#111" stroke="none" stroke-width="1"/>
<circle cx="87.80" cy="600.00" r="1.5" fill="#111" stroke="none" stroke-width="1"/>
<line x1="75.10" y1="586.90" x2="89.30" y2="586.90" stroke="#111" stroke-width="1.0" />
<path d="M82.10,580.30L82.10,579.21 M82.10,580.30L83.14,579.96 M82.10,580.30L82.74,581.18 M82.10,580.30L81.46,581.18 M82.10,580.30L81.06,579.96" stroke="#111" stroke-width="0.95" stroke-linecap="round" fill="none"/>
<rect x="69.40" y="555.10" width="6.80" height="4.50" fill="#3bb34a" stroke="none" stroke-width="1" />
<text x="81.40" y="559.60" font-size="6.4" text-anchor="start" fill="#231f20" >Luc</text>
<rect x="69.40" y="566.80" width="6.80" height="4.80" fill="#c41f35" stroke="none" stroke-width="1" />
<text x="81.40" y="571.60" font-size="6.4" text-anchor="start" fill="#231f20" >shRNA</text>
<text x="47.00" y="655.80" font-size="9.2" text-anchor="start" fill="#231f20" textLength="19.00" lengthAdjust="spacingAndGlyphs" >Day 6</text>
<text x="71.50" y="655.80" font-size="9.2" text-anchor="start" fill="#231f20" textLength="22.60" lengthAdjust="spacingAndGlyphs" >Day 10</text>
<rect x="109.20" y="519.30" width="1.20" height="1.20" fill="#3a3a3a" stroke="none" stroke-width="1" />
<rect x="109.20" y="521.40" width="1.20" height="4.30" fill="#3a3a3a" stroke="none" stroke-width="1" />
<rect x="111.50" y="519.30" width="1.20" height="1.20" fill="#3a3a3a" stroke="none" stroke-width="1" />
<rect x="111.50" y="521.40" width="1.20" height="4.30" fill="#3a3a3a" stroke="none" stroke-width="1" />
<defs><radialGradient id="cellg" cx="0.45" cy="0.45" r="0.6"><stop offset="0" stop-color="#3f43a0"/><stop offset="0.55" stop-color="#5055b0"/><stop offset="1" stop-color="#8085cc"/></radialGradient><radialGradient id="cellp" cx="0.5" cy="0.5" r="0.55"><stop offset="0" stop-color="#9670c0"/><stop offset="1" stop-color="#b096d0"/></radialGradient><clipPath id="clipTop"><rect x="116.0" y="531.3" width="65.4" height="57.8"/></clipPath><clipPath id="clipBot"><rect x="114.4" y="592.6" width="69.4" height="58.0"/></clipPath></defs>
<rect x="116.00" y="531.30" width="65.40" height="57.80" fill="#dadbe8" stroke="none" stroke-width="1" />
<g clip-path="url(#clipTop)"><g filter="url(#blur2)">
<ellipse cx="121.40" cy="537.10" rx="5.2" ry="5.2" fill="url(#cellp)" opacity="0.9"/>
<ellipse cx="131.20" cy="542.20" rx="4.6" ry="4.6" fill="url(#cellg)" opacity="1.0"/>
<ellipse cx="138.20" cy="548.90" rx="4.5" ry="4.5" fill="url(#cellg)" opacity="1.0"/>
<ellipse cx="130.20" cy="550.50" rx="3.1" ry="3.1" fill="url(#cellg)" opacity="1.0"/>
<ellipse cx="128.50" cy="557.00" rx="3.0" ry="3.0" fill="url(#cellg)" opacity="1.0"/>
<ellipse cx="130.40" cy="561.30" rx="1.6" ry="1.6" fill="url(#cellg)" opacity="1.0"/>
<ellipse cx="140.90" cy="541.80" rx="1.5" ry="1.5" fill="#7a5aa5" opacity="1.0"/>
<ellipse cx="157.10" cy="534.70" rx="3.8" ry="3.8" fill="url(#cellg)" opacity="1.0"/>
<ellipse cx="164.10" cy="553.90" rx="3.4" ry="3.4" fill="url(#cellg)" opacity="1.0"/>
<ellipse cx="170.50" cy="551.90" rx="3.2" ry="3.2" fill="url(#cellg)" opacity="1.0"/>
<ellipse cx="169.20" cy="557.90" rx="3.2" ry="3.2" fill="url(#cellg)" opacity="1.0"/>
<ellipse cx="125.40" cy="577.50" rx="5.5" ry="5.5" fill="url(#cellg)" opacity="1.0"/>
<ellipse cx="142.90" cy="582.80" rx="4.5" ry="4.5" fill="url(#cellg)" opacity="1.0"/>
<ellipse cx="170.50" cy="578.60" rx="5.0" ry="5.0" fill="url(#cellg)" opacity="1.0"/>
</g></g>
<rect x="116.00" y="531.30" width="65.40" height="57.80" fill="none" stroke="#111" stroke-width="1.7" />
<line x1="150.90" y1="531.30" x2="150.90" y2="589.10" stroke="#111" stroke-width="2.2" />
<line x1="116.00" y1="567.20" x2="150.90" y2="567.20" stroke="#111" stroke-width="1.7" />
<rect x="132.60" y="568.00" width="17.40" height="8.40" fill="#dadbe8" stroke="#111" stroke-width="1.5" />
<line x1="135.50" y1="571.90" x2="147.00" y2="571.90" stroke="#222" stroke-width="0.9" />
<line x1="137.00" y1="570.40" x2="145.00" y2="570.40" stroke="#555" stroke-width="0.6" />
<rect x="160.80" y="570.00" width="20.60" height="19.10" fill="none" stroke="#111" stroke-width="1.7" />
<rect x="114.40" y="592.60" width="69.40" height="58.00" fill="#dadbe8" stroke="none" stroke-width="1" />
<g clip-path="url(#clipBot)"><g filter="url(#blur2)">
<ellipse cx="131.20" cy="606.80" rx="6.4" ry="6.0" fill="url(#cellg)" opacity="1.0"/>
<ellipse cx="128.60" cy="632.80" rx="5.0" ry="5.0" fill="url(#cellg)" opacity="1.0"/>
<ellipse cx="133.70" cy="638.00" rx="5.3" ry="5.3" fill="url(#cellg)" opacity="1.0"/>
<ellipse cx="123.40" cy="641.40" rx="3.5" ry="3.5" fill="url(#cellg)" opacity="1.0"/>
<ellipse cx="135.50" cy="622.40" rx="1.8" ry="1.8" fill="url(#cellg)" opacity="1.0"/>
<ellipse cx="174.30" cy="600.60" rx="5.4" ry="4.6" fill="url(#cellg)" opacity="1.0"/>
<ellipse cx="160.30" cy="606.00" rx="1.3" ry="1.3" fill="#5a5fb5" opacity="1.0"/>
<ellipse cx="163.50" cy="605.50" rx="0.9" ry="0.9" fill="#5a5fb5" opacity="1.0"/>
<ellipse cx="157.50" cy="605.00" rx="0.9" ry="0.9" fill="#5a5fb5" opacity="1.0"/>
<ellipse cx="160.50" cy="609.00" rx="0.9" ry="0.9" fill="#5a5fb5" opacity="1.0"/>
<ellipse cx="157.20" cy="623.60" rx="5.0" ry="5.6" fill="url(#cellg)" opacity="1.0"/>
<ellipse cx="159.00" cy="640.30" rx="7.0" ry="6.4" fill="url(#cellg)" opacity="1.0"/>
<ellipse cx="150.00" cy="631.00" rx="0.9" ry="0.9" fill="#5a5fb5" opacity="1.0"/>
<ellipse cx="166.00" cy="625.00" rx="0.9" ry="0.9" fill="#5a5fb5" opacity="1.0"/>
</g></g>
<rect x="114.40" y="592.60" width="69.40" height="58.00" fill="none" stroke="#ec2027" stroke-width="1.7" />
<line x1="145.40" y1="592.60" x2="145.40" y2="650.60" stroke="#ec2027" stroke-width="2.0" />
<line x1="114.40" y1="619.60" x2="145.40" y2="619.60" stroke="#ec2027" stroke-width="2.0" />
<rect x="166.20" y="640.70" width="17.60" height="9.60" fill="#dadbe8" stroke="#111" stroke-width="1.5" />
<line x1="169.50" y1="645.60" x2="181.00" y2="645.60" stroke="#222" stroke-width="0.9" />
<line x1="171.00" y1="643.90" x2="179.00" y2="643.90" stroke="#555" stroke-width="0.6" />
<text x="196.60" y="522.60" font-size="11.2" text-anchor="start" fill="#111" font-weight="bold" style="stroke:#111;stroke-width:0.45px">J</text>
<text x="245.00" y="522.40" font-size="10.0" text-anchor="start" fill="#231f20" textLength="91.20" lengthAdjust="spacingAndGlyphs" >shRNA CD36 Culture</text>
<text x="205.90" y="585.30" font-size="9.4" text-anchor="middle" fill="#231f20" textLength="85.00" lengthAdjust="spacingAndGlyphs" transform="rotate(-90 205.90 585.30)" >mCherry Positive %</text>
<text x="216.80" y="587.40" font-size="9.4" text-anchor="middle" fill="#231f20" textLength="115.30" lengthAdjust="spacingAndGlyphs" transform="rotate(-90 216.80 587.40)" >Normalized to Days (D3PI)</text>
<line x1="231.70" y1="548.70" x2="231.70" y2="643.00" stroke="#1a1a1a" stroke-width="1.5" />
<line x1="227.70" y1="549.30" x2="231.70" y2="549.30" stroke="#1a1a1a" stroke-width="1.3" />
<text x="226.00" y="551.70" font-size="7.0" text-anchor="end" fill="#231f20" >3</text>
<line x1="227.70" y1="580.30" x2="231.70" y2="580.30" stroke="#1a1a1a" stroke-width="1.3" />
<text x="226.00" y="582.70" font-size="7.0" text-anchor="end" fill="#231f20" >2</text>
<line x1="227.70" y1="611.30" x2="231.70" y2="611.30" stroke="#1a1a1a" stroke-width="1.3" />
<text x="226.00" y="613.70" font-size="7.0" text-anchor="end" fill="#231f20" >1</text>
<line x1="227.70" y1="642.30" x2="231.70" y2="642.30" stroke="#1a1a1a" stroke-width="1.3" />
<text x="226.00" y="644.70" font-size="7.0" text-anchor="end" fill="#231f20" >0</text>
<line x1="231.70" y1="642.30" x2="368.80" y2="642.30" stroke="#1a1a1a" stroke-width="1.5" />
<line x1="258.75" y1="642.30" x2="258.75" y2="645.80" stroke="#1a1a1a" stroke-width="1.1" />
<line x1="301.25" y1="642.30" x2="301.25" y2="645.80" stroke="#1a1a1a" stroke-width="1.1" />
<line x1="343.00" y1="642.30" x2="343.00" y2="645.80" stroke="#1a1a1a" stroke-width="1.1" />
<text x="258.75" y="656.30" font-size="7.8" text-anchor="middle" fill="#231f20" textLength="30.00" lengthAdjust="spacingAndGlyphs" >D5(D3PI)</text>
<text x="301.25" y="656.30" font-size="7.8" text-anchor="middle" fill="#231f20" textLength="30.00" lengthAdjust="spacingAndGlyphs" >D7(D5PI)</text>
<text x="343.10" y="656.30" font-size="7.8" text-anchor="middle" fill="#231f20" textLength="33.80" lengthAdjust="spacingAndGlyphs" >D10(D7PI)</text>
<line x1="301.25" y1="567.00" x2="301.25" y2="582.00" stroke="#111" stroke-width="1.0" />
<line x1="299.25" y1="567.00" x2="303.25" y2="567.00" stroke="#111" stroke-width="1.0" />
<line x1="299.25" y1="582.00" x2="303.25" y2="582.00" stroke="#111" stroke-width="1.0" />
<line x1="343.00" y1="577.50" x2="343.00" y2="586.50" stroke="#111" stroke-width="1.0" />
<line x1="341.00" y1="577.50" x2="345.00" y2="577.50" stroke="#111" stroke-width="1.0" />
<line x1="341.00" y1="586.50" x2="345.00" y2="586.50" stroke="#111" stroke-width="1.0" />
<line x1="301.25" y1="611.30" x2="301.25" y2="620.00" stroke="#111" stroke-width="1.0" />
<line x1="299.25" y1="611.30" x2="303.25" y2="611.30" stroke="#111" stroke-width="1.0" />
<line x1="299.25" y1="620.00" x2="303.25" y2="620.00" stroke="#111" stroke-width="1.0" />
<line x1="343.00" y1="614.50" x2="343.00" y2="632.00" stroke="#111" stroke-width="1.0" />
<line x1="341.00" y1="614.50" x2="345.00" y2="614.50" stroke="#111" stroke-width="1.0" />
<line x1="341.00" y1="632.00" x2="345.00" y2="632.00" stroke="#111" stroke-width="1.0" />
<polyline points="258.75,611.30 301.25,622.50 343.00,620.50" fill="none" stroke="#3bb34a" stroke-width="1.2" stroke-linejoin="round"/>
<circle cx="258.75" cy="611.30" r="2.4" fill="#3bb34a" stroke="none" stroke-width="1"/>
<circle cx="301.25" cy="622.50" r="2.4" fill="#3bb34a" stroke="none" stroke-width="1"/>
<circle cx="343.00" cy="620.50" r="2.4" fill="#3bb34a" stroke="none" stroke-width="1"/>
<polyline points="258.75,611.30 301.25,618.00 343.00,618.30" fill="none" stroke="#16528f" stroke-width="1.2" stroke-linejoin="round"/>
<circle cx="258.75" cy="611.30" r="2.4" fill="#16528f" stroke="none" stroke-width="1"/>
<circle cx="301.25" cy="618.00" r="2.4" fill="#16528f" stroke="none" stroke-width="1"/>
<circle cx="343.00" cy="618.30" r="2.4" fill="#16528f" stroke="none" stroke-width="1"/>
<polyline points="258.75,611.30 301.25,619.50 343.00,627.50" fill="none" stroke="#c41f35" stroke-width="1.2" stroke-linejoin="round"/>
<circle cx="258.75" cy="611.30" r="2.4" fill="#c41f35" stroke="none" stroke-width="1"/>
<circle cx="301.25" cy="619.50" r="2.4" fill="#c41f35" stroke="none" stroke-width="1"/>
<circle cx="343.00" cy="627.50" r="2.4" fill="#c41f35" stroke="none" stroke-width="1"/>
<polyline points="258.75,611.30 301.25,616.30 343.00,616.30" fill="none" stroke="#53267d" stroke-width="1.2" stroke-linejoin="round"/>
<circle cx="258.75" cy="611.30" r="2.4" fill="#53267d" stroke="none" stroke-width="1"/>
<circle cx="301.25" cy="616.30" r="2.4" fill="#53267d" stroke="none" stroke-width="1"/>
<circle cx="343.00" cy="616.30" r="2.4" fill="#53267d" stroke="none" stroke-width="1"/>
<polyline points="258.75,611.30 301.25,574.50 343.00,582.00" fill="none" stroke="#111" stroke-width="1.2" stroke-linejoin="round"/>
<circle cx="258.75" cy="611.30" r="2.3" fill="#111" stroke="none" stroke-width="1"/>
<circle cx="301.25" cy="574.50" r="2.3" fill="#111" stroke="none" stroke-width="1"/>
<circle cx="343.00" cy="582.00" r="2.3" fill="#111" stroke="none" stroke-width="1"/>
<line x1="356.20" y1="569.90" x2="367.20" y2="569.90" stroke="#111" stroke-width="1.3" />
<circle cx="361.50" cy="569.90" r="2.2" fill="#111" stroke="none" stroke-width="1"/>
<text x="372.80" y="572.10" font-size="6.3" text-anchor="start" fill="#231f20" >Luc1</text>
<line x1="356.20" y1="581.50" x2="367.20" y2="581.50" stroke="#3bb34a" stroke-width="1.3" />
<circle cx="361.50" cy="581.50" r="2.2" fill="#3bb34a" stroke="none" stroke-width="1"/>
<text x="372.80" y="583.70" font-size="6.3" text-anchor="start" fill="#231f20" >sh1.1</text>
<line x1="356.20" y1="592.70" x2="367.20" y2="592.70" stroke="#16528f" stroke-width="1.3" />
<circle cx="361.50" cy="592.70" r="2.2" fill="#16528f" stroke="none" stroke-width="1"/>
<text x="372.80" y="594.90" font-size="6.3" text-anchor="start" fill="#231f20" >sh2.1</text>
<line x1="356.20" y1="604.50" x2="367.20" y2="604.50" stroke="#c41f35" stroke-width="1.3" />
<circle cx="361.50" cy="604.50" r="2.2" fill="#c41f35" stroke="none" stroke-width="1"/>
<text x="372.80" y="606.70" font-size="6.3" text-anchor="start" fill="#231f20" >sh5.1</text>
<line x1="356.20" y1="616.20" x2="367.20" y2="616.20" stroke="#53267d" stroke-width="1.3" />
<circle cx="361.50" cy="616.20" r="2.2" fill="#53267d" stroke="none" stroke-width="1"/>
<text x="372.80" y="618.40" font-size="6.3" text-anchor="start" fill="#231f20" >sh6.1</text>
<rect x="0.60" y="0.60" width="518.80" height="663.80" fill="none" stroke="#111" stroke-width="1.4" />
</svg>
</body></html>
